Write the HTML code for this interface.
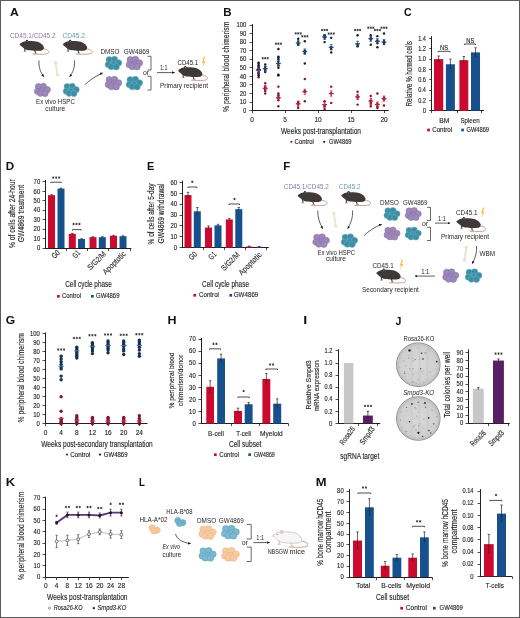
<!DOCTYPE html>
<html><head><meta charset="utf-8"><title>Figure</title>
<style>
html,body{margin:0;padding:0;background:#fff;}
body{width:520px;height:618px;overflow:hidden;}
svg{display:block;font-family:"Liberation Sans",sans-serif;will-change:transform;}
</style></head><body>
<svg width="520" height="618" viewBox="0 0 520 618" fill="#231f20">
<defs>
<marker id="ah" viewBox="0 0 6 6" refX="5" refY="3" markerWidth="4.2" markerHeight="4.2" orient="auto"><path d="M0,0.4 L6,3 L0,5.6 Z" fill="#1a1a1a"/></marker>
<radialGradient id="dishg" cx="0.5" cy="0.5" r="0.5"><stop offset="0" stop-color="#d9d9d9"/><stop offset="0.85" stop-color="#d0d0d0"/><stop offset="1" stop-color="#bcbcbc"/></radialGradient>
<clipPath id="clip364"><circle cx="418.3" cy="364.7" r="21.3"/></clipPath>
<clipPath id="clip418"><circle cx="418.3" cy="418.5" r="21.3"/></clipPath>
</defs>
<rect x="0" y="0" width="520" height="618" fill="#fff"/>
<text x="9.9" y="16.2" font-size="10.6" fill="#111" font-weight="bold" textLength="8.8" lengthAdjust="spacingAndGlyphs">A</text>
<text x="10" y="37.5" font-size="7.3" fill="#8d7aa9" textLength="45.5" lengthAdjust="spacingAndGlyphs">CD45.1/CD45.2</text>
<text x="62.5" y="37.5" font-size="7.3" fill="#5fa0ad" textLength="22.3" lengthAdjust="spacingAndGlyphs">CD45.2</text>
<g transform="translate(19.6 44.3) scale(1)"><path d="M23.3,4.4 C28.3,4.9 30.6,7.3 28.7,9 C26.7,10.3 20,10 13.5,9.7" fill="none" stroke="#b98f87" stroke-width="0.85" stroke-linecap="round"/><path d="M5.1,3.8 L5.3,7 M15,5.6 L16,8.6" stroke="#3f3939" stroke-width="1.1" stroke-linecap="round"/><path d="M4.3,7.2 L6.2,7.2 M15.2,8.9 L17.2,8.9" stroke="#b98f87" stroke-width="0.7" stroke-linecap="round"/><path d="M0,0 C1.2,-1.3 3,-2.5 5.5,-3 C8.5,-3.5 12,-3.1 15,-3 C19,-2.8 22.8,-0.6 24.2,2.5 C24.8,4.4 23.6,5.8 21.5,6.2 C17,6.6 12,6.4 9,6 C6.5,5.7 4.5,4.3 3,2.9 C1.8,1.9 0.4,0.9 0,0 Z" fill="#3f3939" stroke="none" stroke-width="0.5"/><path d="M15,3 C18,4.5 21,5 23.5,4.2 C23.5,5.5 22.5,6 21,6.1 C18,6.4 16,5.5 15,3 Z" fill="#4a3532" opacity="0.8"/><ellipse cx="7.4" cy="-3.1" rx="1.25" ry="1.4" fill="#3a3332" stroke="none" stroke-width="0.4"/><circle cx="7.6" cy="-2.8" r="0.6" fill="#9d8f8c"/><circle cx="3.6" cy="-0.9" r="0.45" fill="#0c0a0a"/><circle cx="0.1" cy="0.3" r="0.45" fill="#c89a8e"/></g>
<g transform="translate(62.8 44.3) scale(1)"><path d="M23.3,4.4 C28.3,4.9 30.6,7.3 28.7,9 C26.7,10.3 20,10 13.5,9.7" fill="none" stroke="#b98f87" stroke-width="0.85" stroke-linecap="round"/><path d="M5.1,3.8 L5.3,7 M15,5.6 L16,8.6" stroke="#3f3939" stroke-width="1.1" stroke-linecap="round"/><path d="M4.3,7.2 L6.2,7.2 M15.2,8.9 L17.2,8.9" stroke="#b98f87" stroke-width="0.7" stroke-linecap="round"/><path d="M0,0 C1.2,-1.3 3,-2.5 5.5,-3 C8.5,-3.5 12,-3.1 15,-3 C19,-2.8 22.8,-0.6 24.2,2.5 C24.8,4.4 23.6,5.8 21.5,6.2 C17,6.6 12,6.4 9,6 C6.5,5.7 4.5,4.3 3,2.9 C1.8,1.9 0.4,0.9 0,0 Z" fill="#3f3939" stroke="none" stroke-width="0.5"/><path d="M15,3 C18,4.5 21,5 23.5,4.2 C23.5,5.5 22.5,6 21,6.1 C18,6.4 16,5.5 15,3 Z" fill="#4a3532" opacity="0.8"/><ellipse cx="7.4" cy="-3.1" rx="1.25" ry="1.4" fill="#3a3332" stroke="none" stroke-width="0.4"/><circle cx="7.6" cy="-2.8" r="0.6" fill="#9d8f8c"/><circle cx="3.6" cy="-0.9" r="0.45" fill="#0c0a0a"/><circle cx="0.1" cy="0.3" r="0.45" fill="#c89a8e"/></g>
<path d="M39,60.5 C38.5,67 40.5,72.5 43.8,76.5" fill="none" stroke="#1a1a1a" stroke-width="0.7" marker-end="url(#ah)"/>
<path d="M74.5,60.5 C75,67 73,72.5 69.7,76.5" fill="none" stroke="#1a1a1a" stroke-width="0.7" marker-end="url(#ah)"/>
<g transform="translate(56.5 68.5) rotate(-9)"><rect x="-0.65" y="-6.5" width="1.3" height="13" fill="#efe5cf" stroke="#ddd0b4" stroke-width="0.3"/><circle cx="-0.7" cy="-6.6" r="0.95" fill="#efe5cf" stroke="#ddd0b4" stroke-width="0.25"/><circle cx="0.7" cy="-6.3" r="0.95" fill="#efe5cf" stroke="#ddd0b4" stroke-width="0.25"/><circle cx="-0.7" cy="6.3" r="0.95" fill="#efe5cf" stroke="#ddd0b4" stroke-width="0.25"/><circle cx="0.7" cy="6.6" r="0.95" fill="#efe5cf" stroke="#ddd0b4" stroke-width="0.25"/><rect x="-0.55" y="-6.2" width="1.1" height="12.4" fill="#efe5cf"/></g>
<g transform="translate(34.2 83.1) scale(0.99 0.99)"><circle cx="4.2" cy="3.5" r="3.15" fill="#9d88ba" stroke="#8570a6" stroke-width="0.55"/><circle cx="9.3" cy="3.2" r="3.15" fill="#9d88ba" stroke="#8570a6" stroke-width="0.55"/><circle cx="3.3" cy="8.3" r="3.15" fill="#9d88ba" stroke="#8570a6" stroke-width="0.55"/><circle cx="8.6" cy="7.9" r="3.15" fill="#9d88ba" stroke="#8570a6" stroke-width="0.55"/><circle cx="13.3" cy="6.6" r="3.15" fill="#9d88ba" stroke="#8570a6" stroke-width="0.55"/><circle cx="6.2" cy="10.3" r="3.15" fill="#9d88ba" stroke="#8570a6" stroke-width="0.55"/><circle cx="11" cy="10.5" r="3.15" fill="#9d88ba" stroke="#8570a6" stroke-width="0.55"/></g>
<g transform="translate(63 83.1) scale(0.99 0.99)"><circle cx="4.2" cy="3.5" r="3.15" fill="#3d8da3" stroke="#66b3c6" stroke-width="0.55"/><circle cx="9.3" cy="3.2" r="3.15" fill="#3d8da3" stroke="#66b3c6" stroke-width="0.55"/><circle cx="3.3" cy="8.3" r="3.15" fill="#3d8da3" stroke="#66b3c6" stroke-width="0.55"/><circle cx="8.6" cy="7.9" r="3.15" fill="#3d8da3" stroke="#66b3c6" stroke-width="0.55"/><circle cx="13.3" cy="6.6" r="3.15" fill="#3d8da3" stroke="#66b3c6" stroke-width="0.55"/><circle cx="6.2" cy="10.3" r="3.15" fill="#3d8da3" stroke="#66b3c6" stroke-width="0.55"/><circle cx="11" cy="10.5" r="3.15" fill="#3d8da3" stroke="#66b3c6" stroke-width="0.55"/></g>
<text x="55.5" y="104" font-size="7.3" text-anchor="middle" fill="#2a2627" textLength="39" lengthAdjust="spacingAndGlyphs">Ex vivo HSPC</text>
<text x="55.3" y="111.1" font-size="7.3" text-anchor="middle" fill="#2a2627" textLength="20" lengthAdjust="spacingAndGlyphs">culture</text>
<path d="M85,84.5 C90,80 95,76.5 102.5,73" fill="none" stroke="#1a1a1a" stroke-width="0.7" marker-end="url(#ah)"/>
<text x="100.5" y="54" font-size="7.3" fill="#2a2627" textLength="19" lengthAdjust="spacingAndGlyphs">DMSO</text>
<text x="123.8" y="54" font-size="7.3" fill="#2a2627" textLength="25.7" lengthAdjust="spacingAndGlyphs">GW4869</text>
<g transform="translate(105 56.2) scale(1.02 1.01)"><circle cx="4.2" cy="3.5" r="3.15" fill="#3d8da3" stroke="#66b3c6" stroke-width="0.55"/><circle cx="9.3" cy="3.2" r="3.15" fill="#3d8da3" stroke="#66b3c6" stroke-width="0.55"/><circle cx="3.3" cy="8.3" r="3.15" fill="#3d8da3" stroke="#66b3c6" stroke-width="0.55"/><circle cx="8.6" cy="7.9" r="3.15" fill="#3d8da3" stroke="#66b3c6" stroke-width="0.55"/><circle cx="13.3" cy="6.6" r="3.15" fill="#3d8da3" stroke="#66b3c6" stroke-width="0.55"/><circle cx="6.2" cy="10.3" r="3.15" fill="#3d8da3" stroke="#66b3c6" stroke-width="0.55"/><circle cx="11" cy="10.5" r="3.15" fill="#3d8da3" stroke="#66b3c6" stroke-width="0.55"/></g>
<g transform="translate(126 56.2) scale(1.01 1.01)"><circle cx="4.2" cy="3.5" r="3.15" fill="#9d88ba" stroke="#8570a6" stroke-width="0.55"/><circle cx="9.3" cy="3.2" r="3.15" fill="#9d88ba" stroke="#8570a6" stroke-width="0.55"/><circle cx="3.3" cy="8.3" r="3.15" fill="#9d88ba" stroke="#8570a6" stroke-width="0.55"/><circle cx="8.6" cy="7.9" r="3.15" fill="#9d88ba" stroke="#8570a6" stroke-width="0.55"/><circle cx="13.3" cy="6.6" r="3.15" fill="#9d88ba" stroke="#8570a6" stroke-width="0.55"/><circle cx="6.2" cy="10.3" r="3.15" fill="#9d88ba" stroke="#8570a6" stroke-width="0.55"/><circle cx="11" cy="10.5" r="3.15" fill="#9d88ba" stroke="#8570a6" stroke-width="0.55"/></g>
<g transform="translate(105 76.2) scale(1.02 1.01)"><circle cx="4.2" cy="3.5" r="3.15" fill="#9d88ba" stroke="#8570a6" stroke-width="0.55"/><circle cx="9.3" cy="3.2" r="3.15" fill="#9d88ba" stroke="#8570a6" stroke-width="0.55"/><circle cx="3.3" cy="8.3" r="3.15" fill="#9d88ba" stroke="#8570a6" stroke-width="0.55"/><circle cx="8.6" cy="7.9" r="3.15" fill="#9d88ba" stroke="#8570a6" stroke-width="0.55"/><circle cx="13.3" cy="6.6" r="3.15" fill="#9d88ba" stroke="#8570a6" stroke-width="0.55"/><circle cx="6.2" cy="10.3" r="3.15" fill="#9d88ba" stroke="#8570a6" stroke-width="0.55"/><circle cx="11" cy="10.5" r="3.15" fill="#9d88ba" stroke="#8570a6" stroke-width="0.55"/></g>
<g transform="translate(126 76.2) scale(1.01 1.01)"><circle cx="4.2" cy="3.5" r="3.15" fill="#3d8da3" stroke="#66b3c6" stroke-width="0.55"/><circle cx="9.3" cy="3.2" r="3.15" fill="#3d8da3" stroke="#66b3c6" stroke-width="0.55"/><circle cx="3.3" cy="8.3" r="3.15" fill="#3d8da3" stroke="#66b3c6" stroke-width="0.55"/><circle cx="8.6" cy="7.9" r="3.15" fill="#3d8da3" stroke="#66b3c6" stroke-width="0.55"/><circle cx="13.3" cy="6.6" r="3.15" fill="#3d8da3" stroke="#66b3c6" stroke-width="0.55"/><circle cx="6.2" cy="10.3" r="3.15" fill="#3d8da3" stroke="#66b3c6" stroke-width="0.55"/><circle cx="11" cy="10.5" r="3.15" fill="#3d8da3" stroke="#66b3c6" stroke-width="0.55"/></g>
<path d="M147.5,56.3 L151,56.3 L151,70 L147.5,70" fill="none" stroke="#2a2a2a" stroke-width="0.7"/>
<path d="M147.5,76.3 L151,76.3 L151,90 L147.5,90" fill="none" stroke="#2a2a2a" stroke-width="0.7"/>
<text x="146" y="74.5" font-size="6.9" text-anchor="middle" fill="#2a2627">or</text>
<text x="163.8" y="70" font-size="6.9" text-anchor="middle" fill="#2a2627" textLength="7.5" lengthAdjust="spacingAndGlyphs">1:1</text>
<path d="M157,72.6 L174.5,72.6" fill="none" stroke="#1a1a1a" stroke-width="0.7" marker-end="url(#ah)"/>
<text x="177.6" y="65" font-size="7.3" fill="#2a2627" textLength="20.5" lengthAdjust="spacingAndGlyphs">CD45.1</text>
<path transform="translate(200.8 56.6) scale(0.87 1.16)" d="M3.6,0 L1.2,5.4 L3.1,5.4 L1.4,10 L5.4,3.9 L3.5,3.9 L5.2,0 Z" fill="#f6c14a"/>
<g transform="translate(178 70.5) scale(1)"><path d="M23.3,4.4 C28.3,4.9 30.6,7.3 28.7,9 C26.7,10.3 20,10 13.5,9.7" fill="none" stroke="#b98f87" stroke-width="0.85" stroke-linecap="round"/><path d="M5.1,3.8 L5.3,7 M15,5.6 L16,8.6" stroke="#3f3939" stroke-width="1.1" stroke-linecap="round"/><path d="M4.3,7.2 L6.2,7.2 M15.2,8.9 L17.2,8.9" stroke="#b98f87" stroke-width="0.7" stroke-linecap="round"/><path d="M0,0 C1.2,-1.3 3,-2.5 5.5,-3 C8.5,-3.5 12,-3.1 15,-3 C19,-2.8 22.8,-0.6 24.2,2.5 C24.8,4.4 23.6,5.8 21.5,6.2 C17,6.6 12,6.4 9,6 C6.5,5.7 4.5,4.3 3,2.9 C1.8,1.9 0.4,0.9 0,0 Z" fill="#3f3939" stroke="none" stroke-width="0.5"/><path d="M15,3 C18,4.5 21,5 23.5,4.2 C23.5,5.5 22.5,6 21,6.1 C18,6.4 16,5.5 15,3 Z" fill="#4a3532" opacity="0.8"/><ellipse cx="7.4" cy="-3.1" rx="1.25" ry="1.4" fill="#3a3332" stroke="none" stroke-width="0.4"/><circle cx="7.6" cy="-2.8" r="0.6" fill="#9d8f8c"/><circle cx="3.6" cy="-0.9" r="0.45" fill="#0c0a0a"/><circle cx="0.1" cy="0.3" r="0.45" fill="#c89a8e"/></g>
<text x="184" y="87.6" font-size="7.3" text-anchor="middle" fill="#2a2627" textLength="48" lengthAdjust="spacingAndGlyphs">Primary recipient</text>
<text x="283.3" y="169.5" font-size="10.6" fill="#111" font-weight="bold" textLength="7" lengthAdjust="spacingAndGlyphs">F</text>
<text x="283.8" y="188.8" font-size="7.3" fill="#8d7aa9" textLength="45" lengthAdjust="spacingAndGlyphs">CD45.1/CD45.2</text>
<text x="338.8" y="188.8" font-size="7.3" fill="#5fa0ad" textLength="21.8" lengthAdjust="spacingAndGlyphs">CD45.2</text>
<g transform="translate(297.6 195.6) scale(1)"><path d="M23.3,4.4 C28.3,4.9 30.6,7.3 28.7,9 C26.7,10.3 20,10 13.5,9.7" fill="none" stroke="#b98f87" stroke-width="0.85" stroke-linecap="round"/><path d="M5.1,3.8 L5.3,7 M15,5.6 L16,8.6" stroke="#3f3939" stroke-width="1.1" stroke-linecap="round"/><path d="M4.3,7.2 L6.2,7.2 M15.2,8.9 L17.2,8.9" stroke="#b98f87" stroke-width="0.7" stroke-linecap="round"/><path d="M0,0 C1.2,-1.3 3,-2.5 5.5,-3 C8.5,-3.5 12,-3.1 15,-3 C19,-2.8 22.8,-0.6 24.2,2.5 C24.8,4.4 23.6,5.8 21.5,6.2 C17,6.6 12,6.4 9,6 C6.5,5.7 4.5,4.3 3,2.9 C1.8,1.9 0.4,0.9 0,0 Z" fill="#3f3939" stroke="none" stroke-width="0.5"/><path d="M15,3 C18,4.5 21,5 23.5,4.2 C23.5,5.5 22.5,6 21,6.1 C18,6.4 16,5.5 15,3 Z" fill="#4a3532" opacity="0.8"/><ellipse cx="7.4" cy="-3.1" rx="1.25" ry="1.4" fill="#3a3332" stroke="none" stroke-width="0.4"/><circle cx="7.6" cy="-2.8" r="0.6" fill="#9d8f8c"/><circle cx="3.6" cy="-0.9" r="0.45" fill="#0c0a0a"/><circle cx="0.1" cy="0.3" r="0.45" fill="#c89a8e"/></g>
<g transform="translate(341.2 195.6) scale(1)"><path d="M23.3,4.4 C28.3,4.9 30.6,7.3 28.7,9 C26.7,10.3 20,10 13.5,9.7" fill="none" stroke="#b98f87" stroke-width="0.85" stroke-linecap="round"/><path d="M5.1,3.8 L5.3,7 M15,5.6 L16,8.6" stroke="#3f3939" stroke-width="1.1" stroke-linecap="round"/><path d="M4.3,7.2 L6.2,7.2 M15.2,8.9 L17.2,8.9" stroke="#b98f87" stroke-width="0.7" stroke-linecap="round"/><path d="M0,0 C1.2,-1.3 3,-2.5 5.5,-3 C8.5,-3.5 12,-3.1 15,-3 C19,-2.8 22.8,-0.6 24.2,2.5 C24.8,4.4 23.6,5.8 21.5,6.2 C17,6.6 12,6.4 9,6 C6.5,5.7 4.5,4.3 3,2.9 C1.8,1.9 0.4,0.9 0,0 Z" fill="#3f3939" stroke="none" stroke-width="0.5"/><path d="M15,3 C18,4.5 21,5 23.5,4.2 C23.5,5.5 22.5,6 21,6.1 C18,6.4 16,5.5 15,3 Z" fill="#4a3532" opacity="0.8"/><ellipse cx="7.4" cy="-3.1" rx="1.25" ry="1.4" fill="#3a3332" stroke="none" stroke-width="0.4"/><circle cx="7.6" cy="-2.8" r="0.6" fill="#9d8f8c"/><circle cx="3.6" cy="-0.9" r="0.45" fill="#0c0a0a"/><circle cx="0.1" cy="0.3" r="0.45" fill="#c89a8e"/></g>
<path d="M317.8,210.5 C317.5,217 319.5,223 322.6,228.5" fill="none" stroke="#1a1a1a" stroke-width="0.7" marker-end="url(#ah)"/>
<path d="M352.5,210.5 C353,217 351,223 347.8,228.5" fill="none" stroke="#1a1a1a" stroke-width="0.7" marker-end="url(#ah)"/>
<g transform="translate(334.75 219.75) rotate(-9)"><rect x="-0.65" y="-6.75" width="1.3" height="13.5" fill="#efe5cf" stroke="#ddd0b4" stroke-width="0.3"/><circle cx="-0.7" cy="-6.85" r="0.95" fill="#efe5cf" stroke="#ddd0b4" stroke-width="0.25"/><circle cx="0.7" cy="-6.55" r="0.95" fill="#efe5cf" stroke="#ddd0b4" stroke-width="0.25"/><circle cx="-0.7" cy="6.55" r="0.95" fill="#efe5cf" stroke="#ddd0b4" stroke-width="0.25"/><circle cx="0.7" cy="6.85" r="0.95" fill="#efe5cf" stroke="#ddd0b4" stroke-width="0.25"/><rect x="-0.55" y="-6.45" width="1.1" height="12.9" fill="#efe5cf"/></g>
<g transform="translate(312.6 233.8) scale(1.02 1)"><circle cx="4.2" cy="3.5" r="3.15" fill="#9d88ba" stroke="#8570a6" stroke-width="0.55"/><circle cx="9.3" cy="3.2" r="3.15" fill="#9d88ba" stroke="#8570a6" stroke-width="0.55"/><circle cx="3.3" cy="8.3" r="3.15" fill="#9d88ba" stroke="#8570a6" stroke-width="0.55"/><circle cx="8.6" cy="7.9" r="3.15" fill="#9d88ba" stroke="#8570a6" stroke-width="0.55"/><circle cx="13.3" cy="6.6" r="3.15" fill="#9d88ba" stroke="#8570a6" stroke-width="0.55"/><circle cx="6.2" cy="10.3" r="3.15" fill="#9d88ba" stroke="#8570a6" stroke-width="0.55"/><circle cx="11" cy="10.5" r="3.15" fill="#9d88ba" stroke="#8570a6" stroke-width="0.55"/></g>
<g transform="translate(341 233.8) scale(1.01 1)"><circle cx="4.2" cy="3.5" r="3.15" fill="#3d8da3" stroke="#66b3c6" stroke-width="0.55"/><circle cx="9.3" cy="3.2" r="3.15" fill="#3d8da3" stroke="#66b3c6" stroke-width="0.55"/><circle cx="3.3" cy="8.3" r="3.15" fill="#3d8da3" stroke="#66b3c6" stroke-width="0.55"/><circle cx="8.6" cy="7.9" r="3.15" fill="#3d8da3" stroke="#66b3c6" stroke-width="0.55"/><circle cx="13.3" cy="6.6" r="3.15" fill="#3d8da3" stroke="#66b3c6" stroke-width="0.55"/><circle cx="6.2" cy="10.3" r="3.15" fill="#3d8da3" stroke="#66b3c6" stroke-width="0.55"/><circle cx="11" cy="10.5" r="3.15" fill="#3d8da3" stroke="#66b3c6" stroke-width="0.55"/></g>
<text x="336.3" y="255.2" font-size="7.3" text-anchor="middle" fill="#2a2627" textLength="37.5" lengthAdjust="spacingAndGlyphs">Ex vivo HSPC</text>
<text x="336" y="261.3" font-size="7.3" text-anchor="middle" fill="#2a2627" textLength="20" lengthAdjust="spacingAndGlyphs">culture</text>
<path d="M364,235.5 C369,231 374,227.5 381.5,224.3" fill="none" stroke="#1a1a1a" stroke-width="0.7" marker-end="url(#ah)"/>
<text x="380" y="205" font-size="7.3" fill="#2a2627" textLength="18.8" lengthAdjust="spacingAndGlyphs">DMSO</text>
<text x="403" y="204.8" font-size="7.3" fill="#2a2627" textLength="24.5" lengthAdjust="spacingAndGlyphs">GW4869</text>
<g transform="translate(383.8 207.5) scale(0.99 0.96)"><circle cx="4.2" cy="3.5" r="3.15" fill="#3d8da3" stroke="#66b3c6" stroke-width="0.55"/><circle cx="9.3" cy="3.2" r="3.15" fill="#3d8da3" stroke="#66b3c6" stroke-width="0.55"/><circle cx="3.3" cy="8.3" r="3.15" fill="#3d8da3" stroke="#66b3c6" stroke-width="0.55"/><circle cx="8.6" cy="7.9" r="3.15" fill="#3d8da3" stroke="#66b3c6" stroke-width="0.55"/><circle cx="13.3" cy="6.6" r="3.15" fill="#3d8da3" stroke="#66b3c6" stroke-width="0.55"/><circle cx="6.2" cy="10.3" r="3.15" fill="#3d8da3" stroke="#66b3c6" stroke-width="0.55"/><circle cx="11" cy="10.5" r="3.15" fill="#3d8da3" stroke="#66b3c6" stroke-width="0.55"/></g>
<g transform="translate(405 207.5) scale(0.99 0.96)"><circle cx="4.2" cy="3.5" r="3.15" fill="#9d88ba" stroke="#8570a6" stroke-width="0.55"/><circle cx="9.3" cy="3.2" r="3.15" fill="#9d88ba" stroke="#8570a6" stroke-width="0.55"/><circle cx="3.3" cy="8.3" r="3.15" fill="#9d88ba" stroke="#8570a6" stroke-width="0.55"/><circle cx="8.6" cy="7.9" r="3.15" fill="#9d88ba" stroke="#8570a6" stroke-width="0.55"/><circle cx="13.3" cy="6.6" r="3.15" fill="#9d88ba" stroke="#8570a6" stroke-width="0.55"/><circle cx="6.2" cy="10.3" r="3.15" fill="#9d88ba" stroke="#8570a6" stroke-width="0.55"/><circle cx="11" cy="10.5" r="3.15" fill="#9d88ba" stroke="#8570a6" stroke-width="0.55"/></g>
<g transform="translate(383.8 227) scale(0.99 0.96)"><circle cx="4.2" cy="3.5" r="3.15" fill="#9d88ba" stroke="#8570a6" stroke-width="0.55"/><circle cx="9.3" cy="3.2" r="3.15" fill="#9d88ba" stroke="#8570a6" stroke-width="0.55"/><circle cx="3.3" cy="8.3" r="3.15" fill="#9d88ba" stroke="#8570a6" stroke-width="0.55"/><circle cx="8.6" cy="7.9" r="3.15" fill="#9d88ba" stroke="#8570a6" stroke-width="0.55"/><circle cx="13.3" cy="6.6" r="3.15" fill="#9d88ba" stroke="#8570a6" stroke-width="0.55"/><circle cx="6.2" cy="10.3" r="3.15" fill="#9d88ba" stroke="#8570a6" stroke-width="0.55"/><circle cx="11" cy="10.5" r="3.15" fill="#9d88ba" stroke="#8570a6" stroke-width="0.55"/></g>
<g transform="translate(405 227) scale(0.99 0.96)"><circle cx="4.2" cy="3.5" r="3.15" fill="#3d8da3" stroke="#66b3c6" stroke-width="0.55"/><circle cx="9.3" cy="3.2" r="3.15" fill="#3d8da3" stroke="#66b3c6" stroke-width="0.55"/><circle cx="3.3" cy="8.3" r="3.15" fill="#3d8da3" stroke="#66b3c6" stroke-width="0.55"/><circle cx="8.6" cy="7.9" r="3.15" fill="#3d8da3" stroke="#66b3c6" stroke-width="0.55"/><circle cx="13.3" cy="6.6" r="3.15" fill="#3d8da3" stroke="#66b3c6" stroke-width="0.55"/><circle cx="6.2" cy="10.3" r="3.15" fill="#3d8da3" stroke="#66b3c6" stroke-width="0.55"/><circle cx="11" cy="10.5" r="3.15" fill="#3d8da3" stroke="#66b3c6" stroke-width="0.55"/></g>
<path d="M427,207.3 L430.5,207.3 L430.5,220.5 L427,220.5" fill="none" stroke="#2a2a2a" stroke-width="0.7"/>
<path d="M427,227.3 L430.5,227.3 L430.5,240.5 L427,240.5" fill="none" stroke="#2a2a2a" stroke-width="0.7"/>
<text x="425" y="225.6" font-size="6.9" text-anchor="middle" fill="#2a2627">or</text>
<text x="442" y="220.5" font-size="6.9" text-anchor="middle" fill="#2a2627" textLength="7.8" lengthAdjust="spacingAndGlyphs">1:1</text>
<path d="M435,223.1 L450,223.1" fill="none" stroke="#1a1a1a" stroke-width="0.7" marker-end="url(#ah)"/>
<text x="456" y="215" font-size="7.3" fill="#2a2627" textLength="21.5" lengthAdjust="spacingAndGlyphs">CD45.1</text>
<path transform="translate(480 207.6) scale(0.83 1.08)" d="M3.6,0 L1.2,5.4 L3.1,5.4 L1.4,10 L5.4,3.9 L3.5,3.9 L5.2,0 Z" fill="#f6c14a"/>
<g transform="translate(456.4 221.5) scale(1)"><path d="M23.3,4.4 C28.3,4.9 30.6,7.3 28.7,9 C26.7,10.3 20,10 13.5,9.7" fill="none" stroke="#b98f87" stroke-width="0.85" stroke-linecap="round"/><path d="M5.1,3.8 L5.3,7 M15,5.6 L16,8.6" stroke="#3f3939" stroke-width="1.1" stroke-linecap="round"/><path d="M4.3,7.2 L6.2,7.2 M15.2,8.9 L17.2,8.9" stroke="#b98f87" stroke-width="0.7" stroke-linecap="round"/><path d="M0,0 C1.2,-1.3 3,-2.5 5.5,-3 C8.5,-3.5 12,-3.1 15,-3 C19,-2.8 22.8,-0.6 24.2,2.5 C24.8,4.4 23.6,5.8 21.5,6.2 C17,6.6 12,6.4 9,6 C6.5,5.7 4.5,4.3 3,2.9 C1.8,1.9 0.4,0.9 0,0 Z" fill="#3f3939" stroke="none" stroke-width="0.5"/><path d="M15,3 C18,4.5 21,5 23.5,4.2 C23.5,5.5 22.5,6 21,6.1 C18,6.4 16,5.5 15,3 Z" fill="#4a3532" opacity="0.8"/><ellipse cx="7.4" cy="-3.1" rx="1.25" ry="1.4" fill="#3a3332" stroke="none" stroke-width="0.4"/><circle cx="7.6" cy="-2.8" r="0.6" fill="#9d8f8c"/><circle cx="3.6" cy="-0.9" r="0.45" fill="#0c0a0a"/><circle cx="0.1" cy="0.3" r="0.45" fill="#c89a8e"/></g>
<text x="465" y="238.8" font-size="7.3" text-anchor="middle" fill="#2a2627" textLength="48" lengthAdjust="spacingAndGlyphs">Primary recipient</text>
<g transform="translate(465.4 253.75) rotate(8)"><rect x="-0.65" y="-6.75" width="1.3" height="13.5" fill="#efe5cf" stroke="#ddd0b4" stroke-width="0.3"/><circle cx="-0.7" cy="-6.85" r="0.95" fill="#efe5cf" stroke="#ddd0b4" stroke-width="0.25"/><circle cx="0.7" cy="-6.55" r="0.95" fill="#efe5cf" stroke="#ddd0b4" stroke-width="0.25"/><circle cx="-0.7" cy="6.55" r="0.95" fill="#efe5cf" stroke="#ddd0b4" stroke-width="0.25"/><circle cx="0.7" cy="6.85" r="0.95" fill="#efe5cf" stroke="#ddd0b4" stroke-width="0.25"/><rect x="-0.55" y="-6.45" width="1.1" height="12.9" fill="#efe5cf"/></g>
<path d="M476.5,246 C477,252 475.5,258 472.3,263.5" fill="none" stroke="#1a1a1a" stroke-width="0.7" marker-end="url(#ah)"/>
<text x="487.3" y="255.6" font-size="7.3" text-anchor="middle" fill="#2a2627" textLength="15.5" lengthAdjust="spacingAndGlyphs">WBM</text>
<g transform="translate(442.5 268.8) scale(0.99 1)"><circle cx="4.2" cy="3.5" r="3.15" fill="#9d88ba" stroke="#8570a6" stroke-width="0.55"/><circle cx="9.3" cy="3.2" r="3.15" fill="#9d88ba" stroke="#8570a6" stroke-width="0.55"/><circle cx="3.3" cy="8.3" r="3.15" fill="#9d88ba" stroke="#8570a6" stroke-width="0.55"/><circle cx="8.6" cy="7.9" r="3.15" fill="#9d88ba" stroke="#8570a6" stroke-width="0.55"/><circle cx="13.3" cy="6.6" r="3.15" fill="#9d88ba" stroke="#8570a6" stroke-width="0.55"/><circle cx="6.2" cy="10.3" r="3.15" fill="#9d88ba" stroke="#8570a6" stroke-width="0.55"/><circle cx="11" cy="10.5" r="3.15" fill="#9d88ba" stroke="#8570a6" stroke-width="0.55"/></g>
<g transform="translate(465 268.8) scale(1.03 1)"><circle cx="4.2" cy="3.5" r="3.15" fill="#3d8da3" stroke="#66b3c6" stroke-width="0.55"/><circle cx="9.3" cy="3.2" r="3.15" fill="#3d8da3" stroke="#66b3c6" stroke-width="0.55"/><circle cx="3.3" cy="8.3" r="3.15" fill="#3d8da3" stroke="#66b3c6" stroke-width="0.55"/><circle cx="8.6" cy="7.9" r="3.15" fill="#3d8da3" stroke="#66b3c6" stroke-width="0.55"/><circle cx="13.3" cy="6.6" r="3.15" fill="#3d8da3" stroke="#66b3c6" stroke-width="0.55"/><circle cx="6.2" cy="10.3" r="3.15" fill="#3d8da3" stroke="#66b3c6" stroke-width="0.55"/><circle cx="11" cy="10.5" r="3.15" fill="#3d8da3" stroke="#66b3c6" stroke-width="0.55"/></g>
<text x="425.3" y="273.8" font-size="6.9" text-anchor="middle" fill="#2a2627" textLength="8.3" lengthAdjust="spacingAndGlyphs">1:1</text>
<path d="M435,276.1 L415,276.1" fill="none" stroke="#1a1a1a" stroke-width="0.7" marker-end="url(#ah)"/>
<text x="372.5" y="268.1" font-size="7.3" fill="#2a2627" textLength="21.3" lengthAdjust="spacingAndGlyphs">CD45.1</text>
<path transform="translate(398.6 259.8) scale(0.87 1.1)" d="M3.6,0 L1.2,5.4 L3.1,5.4 L1.4,10 L5.4,3.9 L3.5,3.9 L5.2,0 Z" fill="#f6c14a"/>
<g transform="translate(376.3 273) scale(1)"><path d="M23.3,4.4 C28.3,4.9 30.6,7.3 28.7,9 C26.7,10.3 20,10 13.5,9.7" fill="none" stroke="#b98f87" stroke-width="0.85" stroke-linecap="round"/><path d="M5.1,3.8 L5.3,7 M15,5.6 L16,8.6" stroke="#3f3939" stroke-width="1.1" stroke-linecap="round"/><path d="M4.3,7.2 L6.2,7.2 M15.2,8.9 L17.2,8.9" stroke="#b98f87" stroke-width="0.7" stroke-linecap="round"/><path d="M0,0 C1.2,-1.3 3,-2.5 5.5,-3 C8.5,-3.5 12,-3.1 15,-3 C19,-2.8 22.8,-0.6 24.2,2.5 C24.8,4.4 23.6,5.8 21.5,6.2 C17,6.6 12,6.4 9,6 C6.5,5.7 4.5,4.3 3,2.9 C1.8,1.9 0.4,0.9 0,0 Z" fill="#3f3939" stroke="none" stroke-width="0.5"/><path d="M15,3 C18,4.5 21,5 23.5,4.2 C23.5,5.5 22.5,6 21,6.1 C18,6.4 16,5.5 15,3 Z" fill="#4a3532" opacity="0.8"/><ellipse cx="7.4" cy="-3.1" rx="1.25" ry="1.4" fill="#3a3332" stroke="none" stroke-width="0.4"/><circle cx="7.6" cy="-2.8" r="0.6" fill="#9d8f8c"/><circle cx="3.6" cy="-0.9" r="0.45" fill="#0c0a0a"/><circle cx="0.1" cy="0.3" r="0.45" fill="#c89a8e"/></g>
<text x="390.4" y="291.6" font-size="7.3" text-anchor="middle" fill="#2a2627" textLength="56.7" lengthAdjust="spacingAndGlyphs">Secondary recipient</text>
<text x="223.2" y="16.3" font-size="10.6" fill="#111" font-weight="bold" textLength="8.3" lengthAdjust="spacingAndGlyphs">B</text>
<line x1="252.5" y1="24" x2="252.5" y2="111.1" stroke="#231f20" stroke-width="1"/>
<line x1="249.5" y1="110.5" x2="252.5" y2="110.5" stroke="#231f20" stroke-width="0.8"/>
<text x="246.4" y="112.8" font-size="6.3" text-anchor="end" textLength="3.3" lengthAdjust="spacingAndGlyphs" stroke="#231f20" stroke-width="0.13">0</text>
<line x1="249.5" y1="102.5" x2="252.5" y2="102.5" stroke="#231f20" stroke-width="0.8"/>
<text x="246.4" y="104.24" font-size="6.3" text-anchor="end" textLength="6.6" lengthAdjust="spacingAndGlyphs" stroke="#231f20" stroke-width="0.13">10</text>
<line x1="249.5" y1="93.5" x2="252.5" y2="93.5" stroke="#231f20" stroke-width="0.8"/>
<text x="246.4" y="95.68" font-size="6.3" text-anchor="end" textLength="6.6" lengthAdjust="spacingAndGlyphs" stroke="#231f20" stroke-width="0.13">20</text>
<line x1="249.5" y1="84.5" x2="252.5" y2="84.5" stroke="#231f20" stroke-width="0.8"/>
<text x="246.4" y="87.12" font-size="6.3" text-anchor="end" textLength="6.6" lengthAdjust="spacingAndGlyphs" stroke="#231f20" stroke-width="0.13">30</text>
<line x1="249.5" y1="76.5" x2="252.5" y2="76.5" stroke="#231f20" stroke-width="0.8"/>
<text x="246.4" y="78.56" font-size="6.3" text-anchor="end" textLength="6.6" lengthAdjust="spacingAndGlyphs" stroke="#231f20" stroke-width="0.13">40</text>
<line x1="249.5" y1="67.5" x2="252.5" y2="67.5" stroke="#231f20" stroke-width="0.8"/>
<text x="246.4" y="70" font-size="6.3" text-anchor="end" textLength="6.6" lengthAdjust="spacingAndGlyphs" stroke="#231f20" stroke-width="0.13">50</text>
<line x1="249.5" y1="59.5" x2="252.5" y2="59.5" stroke="#231f20" stroke-width="0.8"/>
<text x="246.4" y="61.44" font-size="6.3" text-anchor="end" textLength="6.6" lengthAdjust="spacingAndGlyphs" stroke="#231f20" stroke-width="0.13">60</text>
<line x1="249.5" y1="50.5" x2="252.5" y2="50.5" stroke="#231f20" stroke-width="0.8"/>
<text x="246.4" y="52.88" font-size="6.3" text-anchor="end" textLength="6.6" lengthAdjust="spacingAndGlyphs" stroke="#231f20" stroke-width="0.13">70</text>
<line x1="249.5" y1="42.5" x2="252.5" y2="42.5" stroke="#231f20" stroke-width="0.8"/>
<text x="246.4" y="44.32" font-size="6.3" text-anchor="end" textLength="6.6" lengthAdjust="spacingAndGlyphs" stroke="#231f20" stroke-width="0.13">80</text>
<line x1="249.5" y1="33.5" x2="252.5" y2="33.5" stroke="#231f20" stroke-width="0.8"/>
<text x="246.4" y="35.77" font-size="6.3" text-anchor="end" textLength="6.6" lengthAdjust="spacingAndGlyphs" stroke="#231f20" stroke-width="0.13">90</text>
<line x1="249.5" y1="25.5" x2="252.5" y2="25.5" stroke="#231f20" stroke-width="0.8"/>
<text x="246.4" y="27.2" font-size="6.3" text-anchor="end" textLength="9.9" lengthAdjust="spacingAndGlyphs" stroke="#231f20" stroke-width="0.13">100</text>
<line x1="252" y1="110.5" x2="388.8" y2="110.5" stroke="#231f20" stroke-width="1"/>
<line x1="252.5" y1="110.5" x2="252.5" y2="113.1" stroke="#231f20" stroke-width="0.8"/>
<line x1="285.5" y1="110.5" x2="285.5" y2="113.1" stroke="#231f20" stroke-width="0.8"/>
<line x1="318.5" y1="110.5" x2="318.5" y2="113.1" stroke="#231f20" stroke-width="0.8"/>
<line x1="351.5" y1="110.5" x2="351.5" y2="113.1" stroke="#231f20" stroke-width="0.8"/>
<line x1="384.5" y1="110.5" x2="384.5" y2="113.1" stroke="#231f20" stroke-width="0.8"/>
<text x="252" y="121.6" font-size="6.5" text-anchor="middle" stroke="#231f20" stroke-width="0.13">0</text>
<text x="285" y="121.6" font-size="6.5" text-anchor="middle" stroke="#231f20" stroke-width="0.13">5</text>
<text x="318" y="121.6" font-size="6.5" text-anchor="middle" stroke="#231f20" stroke-width="0.13">10</text>
<text x="351" y="121.6" font-size="6.5" text-anchor="middle" stroke="#231f20" stroke-width="0.13">15</text>
<text x="384" y="121.6" font-size="6.5" text-anchor="middle" stroke="#231f20" stroke-width="0.13">20</text>
<text x="321" y="133.8" font-size="8.6" text-anchor="middle" textLength="80" lengthAdjust="spacingAndGlyphs" stroke="#231f20" stroke-width="0.13">Weeks post-transplantation</text>
<text x="229.46" y="66.8" font-size="8.3" text-anchor="middle" textLength="90.5" lengthAdjust="spacingAndGlyphs" transform="rotate(-90 229.46 66.8)" stroke="#231f20" stroke-width="0.13">% peripheral blood chimerism</text>
<circle cx="291.4" cy="141.8" r="1.1" fill="#8c1d2e"/>
<text x="294.6" y="144" font-size="6.3" textLength="19.2" lengthAdjust="spacingAndGlyphs" stroke="#231f20" stroke-width="0.13">Control</text>
<circle cx="324.2" cy="141.8" r="1.1" fill="#14233a"/>
<text x="329" y="144" font-size="6.3" textLength="22.5" lengthAdjust="spacingAndGlyphs" stroke="#231f20" stroke-width="0.13">GW4869</text>
<circle cx="258.6" cy="77.22" r="1.2" fill="#7e1728"/>
<circle cx="258.6" cy="74.65" r="1.2" fill="#7e1728"/>
<circle cx="258.6" cy="72.08" r="1.2" fill="#7e1728"/>
<circle cx="258.6" cy="68.66" r="1.2" fill="#7e1728"/>
<circle cx="258.6" cy="66.09" r="1.2" fill="#7e1728"/>
<circle cx="258.6" cy="63.52" r="1.2" fill="#7e1728"/>
<circle cx="258.6" cy="75.5" r="1.2" fill="#161a22"/>
<circle cx="258.6" cy="72.94" r="1.2" fill="#161a22"/>
<circle cx="258.6" cy="70.37" r="1.2" fill="#161a22"/>
<circle cx="258.6" cy="67.8" r="1.2" fill="#161a22"/>
<circle cx="258.6" cy="65.23" r="1.2" fill="#161a22"/>
<circle cx="258.6" cy="62.66" r="1.2" fill="#161a22"/>
<line x1="256.2" y1="70.37" x2="261" y2="70.37" stroke="#b8223f" stroke-width="1.3"/>
<line x1="258.6" y1="67.8" x2="258.6" y2="72.94" stroke="#b8223f" stroke-width="0.8"/>
<line x1="257.3" y1="67.8" x2="259.9" y2="67.8" stroke="#b8223f" stroke-width="0.8"/>
<line x1="257.3" y1="72.94" x2="259.9" y2="72.94" stroke="#b8223f" stroke-width="0.8"/>
<line x1="256.2" y1="69.51" x2="261" y2="69.51" stroke="#1f4d7e" stroke-width="1.3"/>
<line x1="258.6" y1="66.94" x2="258.6" y2="72.08" stroke="#1f4d7e" stroke-width="0.8"/>
<line x1="257.3" y1="66.94" x2="259.9" y2="66.94" stroke="#1f4d7e" stroke-width="0.8"/>
<line x1="257.3" y1="72.08" x2="259.9" y2="72.08" stroke="#1f4d7e" stroke-width="0.8"/>
<circle cx="265.2" cy="93.48" r="1.2" fill="#7e1728"/>
<circle cx="265.2" cy="90.91" r="1.2" fill="#7e1728"/>
<circle cx="265.2" cy="89.2" r="1.2" fill="#7e1728"/>
<circle cx="265.2" cy="87.49" r="1.2" fill="#7e1728"/>
<circle cx="265.2" cy="86.63" r="1.2" fill="#7e1728"/>
<circle cx="265.2" cy="83.21" r="1.2" fill="#7e1728"/>
<circle cx="265.2" cy="72.08" r="1.2" fill="#161a22"/>
<circle cx="265.2" cy="70.37" r="1.2" fill="#161a22"/>
<circle cx="265.2" cy="68.66" r="1.2" fill="#161a22"/>
<circle cx="265.2" cy="66.94" r="1.2" fill="#161a22"/>
<circle cx="265.2" cy="64.38" r="1.2" fill="#161a22"/>
<line x1="262.8" y1="88.34" x2="267.6" y2="88.34" stroke="#b8223f" stroke-width="1.3"/>
<line x1="265.2" y1="85.78" x2="265.2" y2="90.91" stroke="#b8223f" stroke-width="0.8"/>
<line x1="263.9" y1="85.78" x2="266.5" y2="85.78" stroke="#b8223f" stroke-width="0.8"/>
<line x1="263.9" y1="90.91" x2="266.5" y2="90.91" stroke="#b8223f" stroke-width="0.8"/>
<line x1="262.8" y1="68.66" x2="267.6" y2="68.66" stroke="#1f4d7e" stroke-width="1.3"/>
<line x1="265.2" y1="66.09" x2="265.2" y2="71.22" stroke="#1f4d7e" stroke-width="0.8"/>
<line x1="263.9" y1="66.09" x2="266.5" y2="66.09" stroke="#1f4d7e" stroke-width="0.8"/>
<line x1="263.9" y1="71.22" x2="266.5" y2="71.22" stroke="#1f4d7e" stroke-width="0.8"/>
<circle cx="278.4" cy="106.32" r="1.2" fill="#7e1728"/>
<circle cx="278.4" cy="100.33" r="1.2" fill="#7e1728"/>
<circle cx="278.4" cy="98.62" r="1.2" fill="#7e1728"/>
<circle cx="278.4" cy="96.9" r="1.2" fill="#7e1728"/>
<circle cx="278.4" cy="95.19" r="1.2" fill="#7e1728"/>
<circle cx="278.4" cy="93.48" r="1.2" fill="#7e1728"/>
<circle cx="278.4" cy="86.63" r="1.2" fill="#7e1728"/>
<circle cx="278.4" cy="75.5" r="1.2" fill="#161a22"/>
<circle cx="278.4" cy="74.65" r="1.2" fill="#161a22"/>
<circle cx="278.4" cy="67.8" r="1.2" fill="#161a22"/>
<circle cx="278.4" cy="65.23" r="1.2" fill="#161a22"/>
<circle cx="278.4" cy="61.81" r="1.2" fill="#161a22"/>
<circle cx="278.4" cy="59.24" r="1.2" fill="#161a22"/>
<circle cx="278.4" cy="57.53" r="1.2" fill="#161a22"/>
<circle cx="278.4" cy="56.67" r="1.2" fill="#161a22"/>
<circle cx="278.4" cy="48.97" r="1.2" fill="#161a22"/>
<line x1="276" y1="97.76" x2="280.8" y2="97.76" stroke="#b8223f" stroke-width="1.3"/>
<line x1="278.4" y1="95.19" x2="278.4" y2="100.33" stroke="#b8223f" stroke-width="0.8"/>
<line x1="277.1" y1="95.19" x2="279.7" y2="95.19" stroke="#b8223f" stroke-width="0.8"/>
<line x1="277.1" y1="100.33" x2="279.7" y2="100.33" stroke="#b8223f" stroke-width="0.8"/>
<line x1="276" y1="63.52" x2="280.8" y2="63.52" stroke="#1f4d7e" stroke-width="1.3"/>
<line x1="278.4" y1="60.95" x2="278.4" y2="66.09" stroke="#1f4d7e" stroke-width="0.8"/>
<line x1="277.1" y1="60.95" x2="279.7" y2="60.95" stroke="#1f4d7e" stroke-width="0.8"/>
<line x1="277.1" y1="66.09" x2="279.7" y2="66.09" stroke="#1f4d7e" stroke-width="0.8"/>
<circle cx="298.2" cy="108.03" r="1.2" fill="#7e1728"/>
<circle cx="298.2" cy="104.61" r="1.2" fill="#7e1728"/>
<circle cx="298.2" cy="102.9" r="1.2" fill="#7e1728"/>
<circle cx="298.2" cy="102.04" r="1.2" fill="#7e1728"/>
<circle cx="298.2" cy="44.69" r="1.2" fill="#161a22"/>
<circle cx="298.2" cy="43.83" r="1.2" fill="#161a22"/>
<circle cx="298.2" cy="42.12" r="1.2" fill="#161a22"/>
<circle cx="298.2" cy="38.7" r="1.2" fill="#161a22"/>
<line x1="295.8" y1="103.75" x2="300.6" y2="103.75" stroke="#b8223f" stroke-width="1.3"/>
<line x1="298.2" y1="101.18" x2="298.2" y2="106.32" stroke="#b8223f" stroke-width="0.8"/>
<line x1="296.9" y1="101.18" x2="299.5" y2="101.18" stroke="#b8223f" stroke-width="0.8"/>
<line x1="296.9" y1="106.32" x2="299.5" y2="106.32" stroke="#b8223f" stroke-width="0.8"/>
<line x1="295.8" y1="42.98" x2="300.6" y2="42.98" stroke="#1f4d7e" stroke-width="1.3"/>
<line x1="298.2" y1="40.41" x2="298.2" y2="45.54" stroke="#1f4d7e" stroke-width="0.8"/>
<line x1="296.9" y1="40.41" x2="299.5" y2="40.41" stroke="#1f4d7e" stroke-width="0.8"/>
<line x1="296.9" y1="45.54" x2="299.5" y2="45.54" stroke="#1f4d7e" stroke-width="0.8"/>
<circle cx="304.8" cy="101.18" r="1.2" fill="#7e1728"/>
<circle cx="304.8" cy="91.77" r="1.2" fill="#7e1728"/>
<circle cx="304.8" cy="90.91" r="1.2" fill="#7e1728"/>
<circle cx="304.8" cy="78.93" r="1.2" fill="#7e1728"/>
<circle cx="304.8" cy="63.52" r="1.2" fill="#161a22"/>
<circle cx="304.8" cy="53.25" r="1.2" fill="#161a22"/>
<circle cx="304.8" cy="51.54" r="1.2" fill="#161a22"/>
<circle cx="304.8" cy="50.68" r="1.2" fill="#161a22"/>
<circle cx="304.8" cy="41.26" r="1.2" fill="#161a22"/>
<line x1="302.4" y1="91.77" x2="307.2" y2="91.77" stroke="#b8223f" stroke-width="1.3"/>
<line x1="304.8" y1="89.2" x2="304.8" y2="94.34" stroke="#b8223f" stroke-width="0.8"/>
<line x1="303.5" y1="89.2" x2="306.1" y2="89.2" stroke="#b8223f" stroke-width="0.8"/>
<line x1="303.5" y1="94.34" x2="306.1" y2="94.34" stroke="#b8223f" stroke-width="0.8"/>
<line x1="302.4" y1="51.54" x2="307.2" y2="51.54" stroke="#1f4d7e" stroke-width="1.3"/>
<line x1="304.8" y1="48.97" x2="304.8" y2="54.1" stroke="#1f4d7e" stroke-width="0.8"/>
<line x1="303.5" y1="48.97" x2="306.1" y2="48.97" stroke="#1f4d7e" stroke-width="0.8"/>
<line x1="303.5" y1="54.1" x2="306.1" y2="54.1" stroke="#1f4d7e" stroke-width="0.8"/>
<circle cx="324.6" cy="108.89" r="1.2" fill="#7e1728"/>
<circle cx="324.6" cy="106.32" r="1.2" fill="#7e1728"/>
<circle cx="324.6" cy="104.61" r="1.2" fill="#7e1728"/>
<circle cx="324.6" cy="101.18" r="1.2" fill="#7e1728"/>
<circle cx="324.6" cy="42.12" r="1.2" fill="#161a22"/>
<circle cx="324.6" cy="37.84" r="1.2" fill="#161a22"/>
<circle cx="324.6" cy="36.98" r="1.2" fill="#161a22"/>
<circle cx="324.6" cy="35.27" r="1.2" fill="#161a22"/>
<line x1="322.2" y1="104.61" x2="327" y2="104.61" stroke="#b8223f" stroke-width="1.3"/>
<line x1="324.6" y1="102.04" x2="324.6" y2="107.18" stroke="#b8223f" stroke-width="0.8"/>
<line x1="323.3" y1="102.04" x2="325.9" y2="102.04" stroke="#b8223f" stroke-width="0.8"/>
<line x1="323.3" y1="107.18" x2="325.9" y2="107.18" stroke="#b8223f" stroke-width="0.8"/>
<line x1="322.2" y1="36.98" x2="327" y2="36.98" stroke="#1f4d7e" stroke-width="1.3"/>
<line x1="324.6" y1="34.42" x2="324.6" y2="39.55" stroke="#1f4d7e" stroke-width="0.8"/>
<line x1="323.3" y1="34.42" x2="325.9" y2="34.42" stroke="#1f4d7e" stroke-width="0.8"/>
<line x1="323.3" y1="39.55" x2="325.9" y2="39.55" stroke="#1f4d7e" stroke-width="0.8"/>
<circle cx="331.2" cy="102.9" r="1.2" fill="#7e1728"/>
<circle cx="331.2" cy="93.48" r="1.2" fill="#7e1728"/>
<circle cx="331.2" cy="86.63" r="1.2" fill="#7e1728"/>
<circle cx="331.2" cy="52.39" r="1.2" fill="#161a22"/>
<circle cx="331.2" cy="48.97" r="1.2" fill="#161a22"/>
<circle cx="331.2" cy="47.26" r="1.2" fill="#161a22"/>
<circle cx="331.2" cy="37.84" r="1.2" fill="#161a22"/>
<line x1="328.8" y1="93.48" x2="333.6" y2="93.48" stroke="#b8223f" stroke-width="1.3"/>
<line x1="331.2" y1="90.91" x2="331.2" y2="96.05" stroke="#b8223f" stroke-width="0.8"/>
<line x1="329.9" y1="90.91" x2="332.5" y2="90.91" stroke="#b8223f" stroke-width="0.8"/>
<line x1="329.9" y1="96.05" x2="332.5" y2="96.05" stroke="#b8223f" stroke-width="0.8"/>
<line x1="328.8" y1="47.26" x2="333.6" y2="47.26" stroke="#1f4d7e" stroke-width="1.3"/>
<line x1="331.2" y1="44.69" x2="331.2" y2="49.82" stroke="#1f4d7e" stroke-width="0.8"/>
<line x1="329.9" y1="44.69" x2="332.5" y2="44.69" stroke="#1f4d7e" stroke-width="0.8"/>
<line x1="329.9" y1="49.82" x2="332.5" y2="49.82" stroke="#1f4d7e" stroke-width="0.8"/>
<circle cx="357.6" cy="104.61" r="1.2" fill="#7e1728"/>
<circle cx="357.6" cy="97.76" r="1.2" fill="#7e1728"/>
<circle cx="357.6" cy="96.05" r="1.2" fill="#7e1728"/>
<circle cx="357.6" cy="91.77" r="1.2" fill="#7e1728"/>
<circle cx="357.6" cy="46.4" r="1.2" fill="#161a22"/>
<circle cx="357.6" cy="45.54" r="1.2" fill="#161a22"/>
<circle cx="357.6" cy="43.83" r="1.2" fill="#161a22"/>
<circle cx="357.6" cy="35.27" r="1.2" fill="#161a22"/>
<line x1="355.2" y1="96.9" x2="360" y2="96.9" stroke="#b8223f" stroke-width="1.3"/>
<line x1="357.6" y1="94.34" x2="357.6" y2="99.47" stroke="#b8223f" stroke-width="0.8"/>
<line x1="356.3" y1="94.34" x2="358.9" y2="94.34" stroke="#b8223f" stroke-width="0.8"/>
<line x1="356.3" y1="99.47" x2="358.9" y2="99.47" stroke="#b8223f" stroke-width="0.8"/>
<line x1="355.2" y1="43.83" x2="360" y2="43.83" stroke="#1f4d7e" stroke-width="1.3"/>
<line x1="357.6" y1="41.26" x2="357.6" y2="46.4" stroke="#1f4d7e" stroke-width="0.8"/>
<line x1="356.3" y1="41.26" x2="358.9" y2="41.26" stroke="#1f4d7e" stroke-width="0.8"/>
<line x1="356.3" y1="46.4" x2="358.9" y2="46.4" stroke="#1f4d7e" stroke-width="0.8"/>
<circle cx="370.8" cy="106.32" r="1.2" fill="#7e1728"/>
<circle cx="370.8" cy="103.75" r="1.2" fill="#7e1728"/>
<circle cx="370.8" cy="102.04" r="1.2" fill="#7e1728"/>
<circle cx="370.8" cy="100.33" r="1.2" fill="#7e1728"/>
<circle cx="370.8" cy="96.05" r="1.2" fill="#7e1728"/>
<circle cx="370.8" cy="44.69" r="1.2" fill="#161a22"/>
<circle cx="370.8" cy="39.55" r="1.2" fill="#161a22"/>
<circle cx="370.8" cy="37.84" r="1.2" fill="#161a22"/>
<circle cx="370.8" cy="35.27" r="1.2" fill="#161a22"/>
<line x1="368.4" y1="101.18" x2="373.2" y2="101.18" stroke="#b8223f" stroke-width="1.3"/>
<line x1="370.8" y1="98.62" x2="370.8" y2="103.75" stroke="#b8223f" stroke-width="0.8"/>
<line x1="369.5" y1="98.62" x2="372.1" y2="98.62" stroke="#b8223f" stroke-width="0.8"/>
<line x1="369.5" y1="103.75" x2="372.1" y2="103.75" stroke="#b8223f" stroke-width="0.8"/>
<line x1="368.4" y1="38.7" x2="373.2" y2="38.7" stroke="#1f4d7e" stroke-width="1.3"/>
<line x1="370.8" y1="36.13" x2="370.8" y2="41.26" stroke="#1f4d7e" stroke-width="0.8"/>
<line x1="369.5" y1="36.13" x2="372.1" y2="36.13" stroke="#1f4d7e" stroke-width="0.8"/>
<line x1="369.5" y1="41.26" x2="372.1" y2="41.26" stroke="#1f4d7e" stroke-width="0.8"/>
<circle cx="377.4" cy="108.03" r="1.2" fill="#7e1728"/>
<circle cx="377.4" cy="106.32" r="1.2" fill="#7e1728"/>
<circle cx="377.4" cy="103.75" r="1.2" fill="#7e1728"/>
<circle cx="377.4" cy="93.48" r="1.2" fill="#7e1728"/>
<circle cx="377.4" cy="47.26" r="1.2" fill="#161a22"/>
<circle cx="377.4" cy="42.98" r="1.2" fill="#161a22"/>
<circle cx="377.4" cy="40.41" r="1.2" fill="#161a22"/>
<circle cx="377.4" cy="36.13" r="1.2" fill="#161a22"/>
<line x1="375" y1="104.61" x2="379.8" y2="104.61" stroke="#b8223f" stroke-width="1.3"/>
<line x1="377.4" y1="102.04" x2="377.4" y2="107.18" stroke="#b8223f" stroke-width="0.8"/>
<line x1="376.1" y1="102.04" x2="378.7" y2="102.04" stroke="#b8223f" stroke-width="0.8"/>
<line x1="376.1" y1="107.18" x2="378.7" y2="107.18" stroke="#b8223f" stroke-width="0.8"/>
<line x1="375" y1="41.26" x2="379.8" y2="41.26" stroke="#1f4d7e" stroke-width="1.3"/>
<line x1="377.4" y1="38.7" x2="377.4" y2="43.83" stroke="#1f4d7e" stroke-width="0.8"/>
<line x1="376.1" y1="38.7" x2="378.7" y2="38.7" stroke="#1f4d7e" stroke-width="0.8"/>
<line x1="376.1" y1="43.83" x2="378.7" y2="43.83" stroke="#1f4d7e" stroke-width="0.8"/>
<circle cx="384" cy="105.46" r="1.2" fill="#7e1728"/>
<circle cx="384" cy="99.47" r="1.2" fill="#7e1728"/>
<circle cx="384" cy="97.76" r="1.2" fill="#7e1728"/>
<circle cx="384" cy="43.83" r="1.2" fill="#161a22"/>
<circle cx="384" cy="42.12" r="1.2" fill="#161a22"/>
<circle cx="384" cy="41.26" r="1.2" fill="#161a22"/>
<circle cx="384" cy="33.56" r="1.2" fill="#161a22"/>
<line x1="381.6" y1="98.62" x2="386.4" y2="98.62" stroke="#b8223f" stroke-width="1.3"/>
<line x1="384" y1="96.05" x2="384" y2="101.18" stroke="#b8223f" stroke-width="0.8"/>
<line x1="382.7" y1="96.05" x2="385.3" y2="96.05" stroke="#b8223f" stroke-width="0.8"/>
<line x1="382.7" y1="101.18" x2="385.3" y2="101.18" stroke="#b8223f" stroke-width="0.8"/>
<line x1="381.6" y1="42.12" x2="386.4" y2="42.12" stroke="#1f4d7e" stroke-width="1.3"/>
<line x1="384" y1="39.55" x2="384" y2="44.69" stroke="#1f4d7e" stroke-width="0.8"/>
<line x1="382.7" y1="39.55" x2="385.3" y2="39.55" stroke="#1f4d7e" stroke-width="0.8"/>
<line x1="382.7" y1="44.69" x2="385.3" y2="44.69" stroke="#1f4d7e" stroke-width="0.8"/>
<path d="M262.7,57.05 L262.7,59.35 M261.7,57.62 L263.7,58.78 M263.7,57.62 L261.7,58.78 M265.2,57.05 L265.2,59.35 M264.2,57.62 L266.2,58.78 M266.2,57.62 L264.2,58.78 M267.7,57.05 L267.7,59.35 M266.7,57.62 L268.7,58.78 M268.7,57.62 L266.7,58.78" stroke="#231f20" stroke-width="0.7" fill="none"/>
<path d="M275.9,42.55 L275.9,44.85 M274.9,43.12 L276.9,44.28 M276.9,43.12 L274.9,44.28 M278.4,42.55 L278.4,44.85 M277.4,43.12 L279.4,44.28 M279.4,43.12 L277.4,44.28 M280.9,42.55 L280.9,44.85 M279.9,43.12 L281.9,44.28 M281.9,43.12 L279.9,44.28" stroke="#231f20" stroke-width="0.7" fill="none"/>
<path d="M295.7,32.25 L295.7,34.55 M294.7,32.82 L296.7,33.98 M296.7,32.82 L294.7,33.98 M298.2,32.25 L298.2,34.55 M297.2,32.82 L299.2,33.98 M299.2,32.82 L297.2,33.98 M300.7,32.25 L300.7,34.55 M299.7,32.82 L301.7,33.98 M301.7,32.82 L299.7,33.98" stroke="#231f20" stroke-width="0.7" fill="none"/>
<path d="M302.3,35.15 L302.3,37.45 M301.3,35.72 L303.3,36.88 M303.3,35.72 L301.3,36.88 M304.8,35.15 L304.8,37.45 M303.8,35.72 L305.8,36.88 M305.8,35.72 L303.8,36.88 M307.3,35.15 L307.3,37.45 M306.3,35.72 L308.3,36.88 M308.3,35.72 L306.3,36.88" stroke="#231f20" stroke-width="0.7" fill="none"/>
<path d="M322.1,28.85 L322.1,31.15 M321.1,29.43 L323.1,30.57 M323.1,29.43 L321.1,30.57 M324.6,28.85 L324.6,31.15 M323.6,29.43 L325.6,30.57 M325.6,29.43 L323.6,30.57 M327.1,28.85 L327.1,31.15 M326.1,29.43 L328.1,30.57 M328.1,29.43 L326.1,30.57" stroke="#231f20" stroke-width="0.7" fill="none"/>
<path d="M328.7,32.45 L328.7,34.75 M327.7,33.02 L329.7,34.18 M329.7,33.02 L327.7,34.18 M331.2,32.45 L331.2,34.75 M330.2,33.02 L332.2,34.18 M332.2,33.02 L330.2,34.18 M333.7,32.45 L333.7,34.75 M332.7,33.02 L334.7,34.18 M334.7,33.02 L332.7,34.18" stroke="#231f20" stroke-width="0.7" fill="none"/>
<path d="M355.1,28.85 L355.1,31.15 M354.1,29.43 L356.1,30.57 M356.1,29.43 L354.1,30.57 M357.6,28.85 L357.6,31.15 M356.6,29.43 L358.6,30.57 M358.6,29.43 L356.6,30.57 M360.1,28.85 L360.1,31.15 M359.1,29.43 L361.1,30.57 M361.1,29.43 L359.1,30.57" stroke="#231f20" stroke-width="0.7" fill="none"/>
<path d="M368.3,26.55 L368.3,28.85 M367.3,27.12 L369.3,28.27 M369.3,27.12 L367.3,28.27 M370.8,26.55 L370.8,28.85 M369.8,27.12 L371.8,28.27 M371.8,27.12 L369.8,28.27 M373.3,26.55 L373.3,28.85 M372.3,27.12 L374.3,28.27 M374.3,27.12 L372.3,28.27" stroke="#231f20" stroke-width="0.7" fill="none"/>
<path d="M374.9,28.85 L374.9,31.15 M373.9,29.43 L375.9,30.57 M375.9,29.43 L373.9,30.57 M377.4,28.85 L377.4,31.15 M376.4,29.43 L378.4,30.57 M378.4,29.43 L376.4,30.57 M379.9,28.85 L379.9,31.15 M378.9,29.43 L380.9,30.57 M380.9,29.43 L378.9,30.57" stroke="#231f20" stroke-width="0.7" fill="none"/>
<path d="M381.5,26.55 L381.5,28.85 M380.5,27.12 L382.5,28.27 M382.5,27.12 L380.5,28.27 M384,26.55 L384,28.85 M383,27.12 L385,28.27 M385,27.12 L383,28.27 M386.5,26.55 L386.5,28.85 M385.5,27.12 L387.5,28.27 M387.5,27.12 L385.5,28.27" stroke="#231f20" stroke-width="0.7" fill="none"/>
<text x="404" y="16.3" font-size="10.6" fill="#111" font-weight="bold" textLength="7.6" lengthAdjust="spacingAndGlyphs">C</text>
<line x1="431.5" y1="36.2" x2="431.5" y2="111.2" stroke="#231f20" stroke-width="1"/>
<line x1="429.2" y1="110.5" x2="431.5" y2="110.5" stroke="#231f20" stroke-width="0.8"/>
<text x="426" y="112.91" font-size="6.3" text-anchor="end" textLength="3.3" lengthAdjust="spacingAndGlyphs" stroke="#231f20" stroke-width="0.13">0</text>
<line x1="429.2" y1="100.5" x2="431.5" y2="100.5" stroke="#231f20" stroke-width="0.8"/>
<text x="426" y="102.58" font-size="6.3" text-anchor="end" textLength="7.8" lengthAdjust="spacingAndGlyphs" stroke="#231f20" stroke-width="0.13">0.2</text>
<line x1="429.2" y1="90.5" x2="431.5" y2="90.5" stroke="#231f20" stroke-width="0.8"/>
<text x="426" y="92.27" font-size="6.3" text-anchor="end" textLength="7.8" lengthAdjust="spacingAndGlyphs" stroke="#231f20" stroke-width="0.13">0.4</text>
<line x1="429.2" y1="79.5" x2="431.5" y2="79.5" stroke="#231f20" stroke-width="0.8"/>
<text x="426" y="81.95" font-size="6.3" text-anchor="end" textLength="7.8" lengthAdjust="spacingAndGlyphs" stroke="#231f20" stroke-width="0.13">0.6</text>
<line x1="429.2" y1="69.5" x2="431.5" y2="69.5" stroke="#231f20" stroke-width="0.8"/>
<text x="426" y="71.62" font-size="6.3" text-anchor="end" textLength="7.8" lengthAdjust="spacingAndGlyphs" stroke="#231f20" stroke-width="0.13">0.8</text>
<line x1="429.2" y1="59.5" x2="431.5" y2="59.5" stroke="#231f20" stroke-width="0.8"/>
<text x="426" y="61.3" font-size="6.3" text-anchor="end" textLength="7.8" lengthAdjust="spacingAndGlyphs" stroke="#231f20" stroke-width="0.13">1.0</text>
<line x1="429.2" y1="48.5" x2="431.5" y2="48.5" stroke="#231f20" stroke-width="0.8"/>
<text x="426" y="50.98" font-size="6.3" text-anchor="end" textLength="7.8" lengthAdjust="spacingAndGlyphs" stroke="#231f20" stroke-width="0.13">1.2</text>
<line x1="429.2" y1="38.5" x2="431.5" y2="38.5" stroke="#231f20" stroke-width="0.8"/>
<text x="426" y="40.67" font-size="6.3" text-anchor="end" textLength="7.8" lengthAdjust="spacingAndGlyphs" stroke="#231f20" stroke-width="0.13">1.4</text>
<line x1="431" y1="110.5" x2="484" y2="110.5" stroke="#231f20" stroke-width="1"/>
<line x1="431.5" y1="110.5" x2="431.5" y2="113.1" stroke="#231f20" stroke-width="0.8"/>
<line x1="457.5" y1="110.5" x2="457.5" y2="113.1" stroke="#231f20" stroke-width="0.8"/>
<line x1="481.5" y1="110.5" x2="481.5" y2="113.1" stroke="#231f20" stroke-width="0.8"/>
<rect x="434" y="59.1" width="9.2" height="51.6" fill="#cc0a2f"/>
<line x1="438.6" y1="56" x2="438.6" y2="62.2" stroke="#231f20" stroke-width="0.7"/>
<line x1="437.4" y1="56" x2="439.8" y2="56" stroke="#231f20" stroke-width="0.7"/>
<rect x="445.9" y="64.26" width="9" height="46.44" fill="#17518d"/>
<line x1="450.4" y1="59.1" x2="450.4" y2="69.42" stroke="#231f20" stroke-width="0.7"/>
<line x1="449.2" y1="59.1" x2="451.6" y2="59.1" stroke="#231f20" stroke-width="0.7"/>
<rect x="459.4" y="60.13" width="8.9" height="50.57" fill="#cc0a2f"/>
<line x1="463.85" y1="56.52" x2="463.85" y2="63.74" stroke="#231f20" stroke-width="0.7"/>
<line x1="462.65" y1="56.52" x2="465.05" y2="56.52" stroke="#231f20" stroke-width="0.7"/>
<rect x="471" y="52.39" width="9" height="58.31" fill="#17518d"/>
<line x1="475.5" y1="47.75" x2="475.5" y2="57.04" stroke="#231f20" stroke-width="0.7"/>
<line x1="474.3" y1="47.75" x2="476.7" y2="47.75" stroke="#231f20" stroke-width="0.7"/>
<text x="444.3" y="122.5" font-size="6.8" text-anchor="middle" textLength="10" lengthAdjust="spacingAndGlyphs" stroke="#231f20" stroke-width="0.13">BM</text>
<text x="470" y="122.5" font-size="6.8" text-anchor="middle" textLength="19.2" lengthAdjust="spacingAndGlyphs" stroke="#231f20" stroke-width="0.13">Spleen</text>
<path d="M438.1,52.3 L438.1,51.3 L450,51.3 L450,52.3" fill="none" stroke="#231f20" stroke-width="0.8"/>
<text x="444.1" y="50" font-size="7" text-anchor="middle" textLength="8" lengthAdjust="spacingAndGlyphs" stroke="#231f20" stroke-width="0.13">NS</text>
<path d="M464.4,45 L464.4,44 L475.6,44 L475.6,45" fill="none" stroke="#231f20" stroke-width="0.8"/>
<text x="470.3" y="42.6" font-size="7" text-anchor="middle" textLength="8" lengthAdjust="spacingAndGlyphs" stroke="#231f20" stroke-width="0.13">NS</text>
<text x="411.59" y="73.8" font-size="8.3" text-anchor="middle" textLength="65.5" lengthAdjust="spacingAndGlyphs" transform="rotate(-90 411.59 73.8)" stroke="#231f20" stroke-width="0.13">Relative % homed cells</text>
<rect x="427.2" y="128.65" width="2.7" height="2.7" fill="#cc0a2f"/>
<text x="432.2" y="132.2" font-size="6.3" textLength="20" lengthAdjust="spacingAndGlyphs" stroke="#231f20" stroke-width="0.13">Control</text>
<rect x="461.2" y="128.65" width="2.7" height="2.7" fill="#17518d"/>
<text x="466.5" y="132.2" font-size="6.3" textLength="22.5" lengthAdjust="spacingAndGlyphs" stroke="#231f20" stroke-width="0.13">GW4869</text>
<text x="5.7" y="169.5" font-size="10.6" fill="#111" font-weight="bold" textLength="8.4" lengthAdjust="spacingAndGlyphs">D</text>
<line x1="45.5" y1="180" x2="45.5" y2="248.5" stroke="#231f20" stroke-width="1"/>
<line x1="42.5" y1="248.5" x2="45.5" y2="248.5" stroke="#231f20" stroke-width="0.8"/>
<text x="40.2" y="250.21" font-size="6.3" text-anchor="end" textLength="3.3" lengthAdjust="spacingAndGlyphs" stroke="#231f20" stroke-width="0.13">0</text>
<line x1="42.5" y1="238.5" x2="45.5" y2="238.5" stroke="#231f20" stroke-width="0.8"/>
<text x="40.2" y="240.78" font-size="6.3" text-anchor="end" textLength="6.6" lengthAdjust="spacingAndGlyphs" stroke="#231f20" stroke-width="0.13">10</text>
<line x1="42.5" y1="229.5" x2="45.5" y2="229.5" stroke="#231f20" stroke-width="0.8"/>
<text x="40.2" y="231.34" font-size="6.3" text-anchor="end" textLength="6.6" lengthAdjust="spacingAndGlyphs" stroke="#231f20" stroke-width="0.13">20</text>
<line x1="42.5" y1="219.5" x2="45.5" y2="219.5" stroke="#231f20" stroke-width="0.8"/>
<text x="40.2" y="221.92" font-size="6.3" text-anchor="end" textLength="6.6" lengthAdjust="spacingAndGlyphs" stroke="#231f20" stroke-width="0.13">30</text>
<line x1="42.5" y1="210.5" x2="45.5" y2="210.5" stroke="#231f20" stroke-width="0.8"/>
<text x="40.2" y="212.49" font-size="6.3" text-anchor="end" textLength="6.6" lengthAdjust="spacingAndGlyphs" stroke="#231f20" stroke-width="0.13">40</text>
<line x1="42.5" y1="200.5" x2="45.5" y2="200.5" stroke="#231f20" stroke-width="0.8"/>
<text x="40.2" y="203.06" font-size="6.3" text-anchor="end" textLength="6.6" lengthAdjust="spacingAndGlyphs" stroke="#231f20" stroke-width="0.13">50</text>
<line x1="42.5" y1="191.5" x2="45.5" y2="191.5" stroke="#231f20" stroke-width="0.8"/>
<text x="40.2" y="193.63" font-size="6.3" text-anchor="end" textLength="6.6" lengthAdjust="spacingAndGlyphs" stroke="#231f20" stroke-width="0.13">60</text>
<line x1="42.5" y1="181.5" x2="45.5" y2="181.5" stroke="#231f20" stroke-width="0.8"/>
<text x="40.2" y="184.2" font-size="6.3" text-anchor="end" textLength="6.6" lengthAdjust="spacingAndGlyphs" stroke="#231f20" stroke-width="0.13">70</text>
<line x1="45" y1="248.5" x2="131.3" y2="248.5" stroke="#231f20" stroke-width="1"/>
<line x1="66.5" y1="248.5" x2="66.5" y2="251.1" stroke="#231f20" stroke-width="0.8"/>
<line x1="87.5" y1="248.5" x2="87.5" y2="251.1" stroke="#231f20" stroke-width="0.8"/>
<line x1="108.5" y1="248.5" x2="108.5" y2="251.1" stroke="#231f20" stroke-width="0.8"/>
<line x1="130.5" y1="248.5" x2="130.5" y2="251.1" stroke="#231f20" stroke-width="0.8"/>
<rect x="48" y="195.19" width="7" height="52.81" fill="#cc0a2f"/>
<line x1="51.5" y1="194.63" x2="51.5" y2="195.76" stroke="#231f20" stroke-width="0.7"/>
<line x1="50.3" y1="194.63" x2="52.7" y2="194.63" stroke="#231f20" stroke-width="0.7"/>
<rect x="57.5" y="188.59" width="7" height="59.41" fill="#17518d"/>
<line x1="61" y1="188.12" x2="61" y2="189.06" stroke="#231f20" stroke-width="0.7"/>
<line x1="59.8" y1="188.12" x2="62.2" y2="188.12" stroke="#231f20" stroke-width="0.7"/>
<rect x="68.8" y="233.85" width="7" height="14.15" fill="#cc0a2f"/>
<line x1="72.3" y1="233.38" x2="72.3" y2="234.33" stroke="#231f20" stroke-width="0.7"/>
<line x1="71.1" y1="233.38" x2="73.5" y2="233.38" stroke="#231f20" stroke-width="0.7"/>
<rect x="78" y="239.04" width="7" height="8.96" fill="#17518d"/>
<line x1="81.5" y1="238.66" x2="81.5" y2="239.42" stroke="#231f20" stroke-width="0.7"/>
<line x1="80.3" y1="238.66" x2="82.7" y2="238.66" stroke="#231f20" stroke-width="0.7"/>
<rect x="89.5" y="237.16" width="7" height="10.84" fill="#cc0a2f"/>
<line x1="93" y1="236.68" x2="93" y2="237.63" stroke="#231f20" stroke-width="0.7"/>
<line x1="91.8" y1="236.68" x2="94.2" y2="236.68" stroke="#231f20" stroke-width="0.7"/>
<rect x="98.8" y="237.16" width="7" height="10.84" fill="#17518d"/>
<line x1="102.3" y1="236.68" x2="102.3" y2="237.63" stroke="#231f20" stroke-width="0.7"/>
<line x1="101.1" y1="236.68" x2="103.5" y2="236.68" stroke="#231f20" stroke-width="0.7"/>
<rect x="110" y="235.74" width="7" height="12.26" fill="#cc0a2f"/>
<line x1="113.5" y1="235.27" x2="113.5" y2="236.21" stroke="#231f20" stroke-width="0.7"/>
<line x1="112.3" y1="235.27" x2="114.7" y2="235.27" stroke="#231f20" stroke-width="0.7"/>
<rect x="119.5" y="236.21" width="7" height="11.79" fill="#17518d"/>
<line x1="123" y1="235.74" x2="123" y2="236.68" stroke="#231f20" stroke-width="0.7"/>
<line x1="121.8" y1="235.74" x2="124.2" y2="235.74" stroke="#231f20" stroke-width="0.7"/>
<path d="M53.3,176.45 L53.3,178.75 M52.3,177.03 L54.3,178.17 M54.3,177.03 L52.3,178.17 M56.25,176.45 L56.25,178.75 M55.25,177.03 L57.25,178.17 M57.25,177.03 L55.25,178.17 M59.2,176.45 L59.2,178.75 M58.2,177.03 L60.2,178.17 M60.2,177.03 L58.2,178.17" stroke="#231f20" stroke-width="0.7" fill="none"/>
<path d="M50.8,183.2 L50.8,182.2 L61.2,182.2 L61.2,183.2" fill="none" stroke="#231f20" stroke-width="0.8"/>
<path d="M73.55,222.85 L73.55,225.15 M72.55,223.43 L74.55,224.57 M74.55,223.43 L72.55,224.57 M76.5,222.85 L76.5,225.15 M75.5,223.43 L77.5,224.57 M77.5,223.43 L75.5,224.57 M79.45,222.85 L79.45,225.15 M78.45,223.43 L80.45,224.57 M80.45,223.43 L78.45,224.57" stroke="#231f20" stroke-width="0.7" fill="none"/>
<path d="M72.5,230.6 L72.5,229.6 L81,229.6 L81,230.6" fill="none" stroke="#231f20" stroke-width="0.8"/>
<text x="60.5" y="253.3" font-size="7.9" text-anchor="end" textLength="8.2" lengthAdjust="spacingAndGlyphs" transform="rotate(-45 60.5 253.3)" stroke="#231f20" stroke-width="0.13">G0</text>
<text x="80.8" y="253.3" font-size="7.9" text-anchor="end" textLength="7.6" lengthAdjust="spacingAndGlyphs" transform="rotate(-45 80.8 253.3)" stroke="#231f20" stroke-width="0.13">G1</text>
<text x="106.5" y="254.6" font-size="7.9" text-anchor="end" textLength="22.5" lengthAdjust="spacingAndGlyphs" transform="rotate(-45 106.5 254.6)" stroke="#231f20" stroke-width="0.13">S/G2/M</text>
<text x="126.2" y="254.6" font-size="7.9" text-anchor="end" textLength="29" lengthAdjust="spacingAndGlyphs" transform="rotate(-45 126.2 254.6)" stroke="#231f20" stroke-width="0.13">Apoptotic</text>
<text x="88.5" y="286.7" font-size="8.6" text-anchor="middle" textLength="46.5" lengthAdjust="spacingAndGlyphs" stroke="#231f20" stroke-width="0.13">Cell cycle phase</text>
<rect x="57" y="294.95" width="2.7" height="2.7" fill="#cc0a2f"/>
<text x="62" y="298.4" font-size="6.3" textLength="19" lengthAdjust="spacingAndGlyphs" stroke="#231f20" stroke-width="0.13">Control</text>
<rect x="91" y="294.95" width="2.7" height="2.7" fill="#17518d"/>
<text x="96" y="298.4" font-size="6.3" textLength="23.5" lengthAdjust="spacingAndGlyphs" stroke="#231f20" stroke-width="0.13">GW4869</text>
<text x="15.14" y="213.6" font-size="8.3" text-anchor="middle" textLength="68.7" lengthAdjust="spacingAndGlyphs" transform="rotate(-90 15.14 213.6)" stroke="#231f20" stroke-width="0.13">% of cells after 24-hour</text>
<text x="24.34" y="213.6" font-size="8.3" text-anchor="middle" textLength="57.4" lengthAdjust="spacingAndGlyphs" transform="rotate(-90 24.34 213.6)" stroke="#231f20" stroke-width="0.13">GW4869 treatment</text>
<text x="147" y="169.5" font-size="10.6" fill="#111" font-weight="bold" textLength="7.3" lengthAdjust="spacingAndGlyphs">E</text>
<line x1="182.5" y1="180.7" x2="182.5" y2="248.1" stroke="#231f20" stroke-width="1"/>
<line x1="179.5" y1="247.5" x2="182.5" y2="247.5" stroke="#231f20" stroke-width="0.8"/>
<text x="177" y="249.81" font-size="6.3" text-anchor="end" textLength="3.3" lengthAdjust="spacingAndGlyphs" stroke="#231f20" stroke-width="0.13">0</text>
<line x1="179.5" y1="236.5" x2="182.5" y2="236.5" stroke="#231f20" stroke-width="0.8"/>
<text x="177" y="238.97" font-size="6.3" text-anchor="end" textLength="6.6" lengthAdjust="spacingAndGlyphs" stroke="#231f20" stroke-width="0.13">10</text>
<line x1="179.5" y1="225.5" x2="182.5" y2="225.5" stroke="#231f20" stroke-width="0.8"/>
<text x="177" y="228.15" font-size="6.3" text-anchor="end" textLength="6.6" lengthAdjust="spacingAndGlyphs" stroke="#231f20" stroke-width="0.13">20</text>
<line x1="179.5" y1="215.5" x2="182.5" y2="215.5" stroke="#231f20" stroke-width="0.8"/>
<text x="177" y="217.31" font-size="6.3" text-anchor="end" textLength="6.6" lengthAdjust="spacingAndGlyphs" stroke="#231f20" stroke-width="0.13">30</text>
<line x1="179.5" y1="204.5" x2="182.5" y2="204.5" stroke="#231f20" stroke-width="0.8"/>
<text x="177" y="206.49" font-size="6.3" text-anchor="end" textLength="6.6" lengthAdjust="spacingAndGlyphs" stroke="#231f20" stroke-width="0.13">40</text>
<line x1="179.5" y1="193.5" x2="182.5" y2="193.5" stroke="#231f20" stroke-width="0.8"/>
<text x="177" y="195.66" font-size="6.3" text-anchor="end" textLength="6.6" lengthAdjust="spacingAndGlyphs" stroke="#231f20" stroke-width="0.13">50</text>
<line x1="179.5" y1="182.5" x2="182.5" y2="182.5" stroke="#231f20" stroke-width="0.8"/>
<text x="177" y="184.83" font-size="6.3" text-anchor="end" textLength="6.6" lengthAdjust="spacingAndGlyphs" stroke="#231f20" stroke-width="0.13">60</text>
<line x1="182" y1="247.5" x2="268.8" y2="247.5" stroke="#231f20" stroke-width="1"/>
<line x1="203.5" y1="247.5" x2="203.5" y2="250.1" stroke="#231f20" stroke-width="0.8"/>
<line x1="224.5" y1="247.5" x2="224.5" y2="250.1" stroke="#231f20" stroke-width="0.8"/>
<line x1="245.5" y1="247.5" x2="245.5" y2="250.1" stroke="#231f20" stroke-width="0.8"/>
<line x1="266.5" y1="247.5" x2="266.5" y2="250.1" stroke="#231f20" stroke-width="0.8"/>
<rect x="184.5" y="195.07" width="7" height="52.53" fill="#cc0a2f"/>
<line x1="188" y1="192.37" x2="188" y2="197.78" stroke="#231f20" stroke-width="0.7"/>
<line x1="186.8" y1="192.37" x2="189.2" y2="192.37" stroke="#231f20" stroke-width="0.7"/>
<rect x="193.8" y="211.32" width="7" height="36.28" fill="#17518d"/>
<line x1="197.3" y1="207.53" x2="197.3" y2="215.11" stroke="#231f20" stroke-width="0.7"/>
<line x1="196.1" y1="207.53" x2="198.5" y2="207.53" stroke="#231f20" stroke-width="0.7"/>
<rect x="205" y="227.56" width="7" height="20.04" fill="#cc0a2f"/>
<line x1="208.5" y1="225.94" x2="208.5" y2="229.19" stroke="#231f20" stroke-width="0.7"/>
<line x1="207.3" y1="225.94" x2="209.7" y2="225.94" stroke="#231f20" stroke-width="0.7"/>
<rect x="214.5" y="225.4" width="7" height="22.2" fill="#17518d"/>
<line x1="218" y1="224.32" x2="218" y2="226.48" stroke="#231f20" stroke-width="0.7"/>
<line x1="216.8" y1="224.32" x2="219.2" y2="224.32" stroke="#231f20" stroke-width="0.7"/>
<rect x="225.8" y="219.44" width="7" height="28.16" fill="#cc0a2f"/>
<line x1="229.3" y1="218.36" x2="229.3" y2="220.53" stroke="#231f20" stroke-width="0.7"/>
<line x1="228.1" y1="218.36" x2="230.5" y2="218.36" stroke="#231f20" stroke-width="0.7"/>
<rect x="235.3" y="209.15" width="7" height="38.45" fill="#17518d"/>
<line x1="238.8" y1="207.53" x2="238.8" y2="210.78" stroke="#231f20" stroke-width="0.7"/>
<line x1="237.6" y1="207.53" x2="240" y2="207.53" stroke="#231f20" stroke-width="0.7"/>
<rect x="246" y="246.52" width="6.5" height="1.08" fill="#cc0a2f"/>
<line x1="249.25" y1="246.08" x2="249.25" y2="246.95" stroke="#231f20" stroke-width="0.7"/>
<line x1="248.05" y1="246.08" x2="250.45" y2="246.08" stroke="#231f20" stroke-width="0.7"/>
<rect x="256" y="246.73" width="6.5" height="0.87" fill="#17518d"/>
<line x1="259.25" y1="246.41" x2="259.25" y2="247.06" stroke="#231f20" stroke-width="0.7"/>
<line x1="258.05" y1="246.41" x2="260.45" y2="246.41" stroke="#231f20" stroke-width="0.7"/>
<path d="M192.3,180.65 L192.3,182.95 M191.3,181.23 L193.3,182.38 M193.3,181.23 L191.3,182.38" stroke="#231f20" stroke-width="0.7" fill="none"/>
<path d="M188,188 L188,187 L197,187 L197,188" fill="none" stroke="#231f20" stroke-width="0.8"/>
<path d="M234.5,197.85 L234.5,200.15 M233.5,198.43 L235.5,199.57 M235.5,198.43 L233.5,199.57" stroke="#231f20" stroke-width="0.7" fill="none"/>
<path d="M229,205 L229,204 L239.5,204 L239.5,205" fill="none" stroke="#231f20" stroke-width="0.8"/>
<text x="197.6" y="254.8" font-size="7.9" text-anchor="end" textLength="8.2" lengthAdjust="spacingAndGlyphs" transform="rotate(-45 197.6 254.8)" stroke="#231f20" stroke-width="0.13">G0</text>
<text x="217" y="254.8" font-size="7.9" text-anchor="end" textLength="7.6" lengthAdjust="spacingAndGlyphs" transform="rotate(-45 217 254.8)" stroke="#231f20" stroke-width="0.13">G1</text>
<text x="240.2" y="255.3" font-size="7.9" text-anchor="end" textLength="22.5" lengthAdjust="spacingAndGlyphs" transform="rotate(-45 240.2 255.3)" stroke="#231f20" stroke-width="0.13">S/G2/M</text>
<text x="262.2" y="255.3" font-size="7.9" text-anchor="end" textLength="29" lengthAdjust="spacingAndGlyphs" transform="rotate(-45 262.2 255.3)" stroke="#231f20" stroke-width="0.13">Apoptotic</text>
<text x="225.5" y="287.4" font-size="8.6" text-anchor="middle" textLength="47" lengthAdjust="spacingAndGlyphs" stroke="#231f20" stroke-width="0.13">Cell cycle phase</text>
<rect x="193.4" y="293.95" width="2.7" height="2.7" fill="#cc0a2f"/>
<text x="199" y="297.4" font-size="6.3" textLength="20" lengthAdjust="spacingAndGlyphs" stroke="#231f20" stroke-width="0.13">Control</text>
<rect x="229.4" y="293.95" width="2.7" height="2.7" fill="#17518d"/>
<text x="233.8" y="297.4" font-size="6.3" textLength="24.5" lengthAdjust="spacingAndGlyphs" stroke="#231f20" stroke-width="0.13">GW4869</text>
<text x="153.96" y="213.9" font-size="8.3" text-anchor="middle" textLength="61" lengthAdjust="spacingAndGlyphs" transform="rotate(-90 153.96 213.9)" stroke="#231f20" stroke-width="0.13">% of cells after 5-day</text>
<text x="163.99" y="213.5" font-size="8.3" text-anchor="middle" textLength="60" lengthAdjust="spacingAndGlyphs" transform="rotate(-90 163.99 213.5)" stroke="#231f20" stroke-width="0.13">GW4869 withdrawal</text>
<text x="5.7" y="323.8" font-size="10.6" fill="#111" font-weight="bold" textLength="9.4" lengthAdjust="spacingAndGlyphs">G</text>
<line x1="45.5" y1="332.4" x2="45.5" y2="424.3" stroke="#231f20" stroke-width="1"/>
<line x1="42.5" y1="423.5" x2="45.5" y2="423.5" stroke="#231f20" stroke-width="0.8"/>
<text x="39.9" y="426" font-size="6.3" text-anchor="end" textLength="3.3" lengthAdjust="spacingAndGlyphs" stroke="#231f20" stroke-width="0.13">0</text>
<line x1="42.5" y1="414.5" x2="45.5" y2="414.5" stroke="#231f20" stroke-width="0.8"/>
<text x="39.9" y="417" font-size="6.3" text-anchor="end" textLength="6.6" lengthAdjust="spacingAndGlyphs" stroke="#231f20" stroke-width="0.13">10</text>
<line x1="42.5" y1="405.5" x2="45.5" y2="405.5" stroke="#231f20" stroke-width="0.8"/>
<text x="39.9" y="408" font-size="6.3" text-anchor="end" textLength="6.6" lengthAdjust="spacingAndGlyphs" stroke="#231f20" stroke-width="0.13">20</text>
<line x1="42.5" y1="396.5" x2="45.5" y2="396.5" stroke="#231f20" stroke-width="0.8"/>
<text x="39.9" y="399" font-size="6.3" text-anchor="end" textLength="6.6" lengthAdjust="spacingAndGlyphs" stroke="#231f20" stroke-width="0.13">30</text>
<line x1="42.5" y1="387.5" x2="45.5" y2="387.5" stroke="#231f20" stroke-width="0.8"/>
<text x="39.9" y="390" font-size="6.3" text-anchor="end" textLength="6.6" lengthAdjust="spacingAndGlyphs" stroke="#231f20" stroke-width="0.13">40</text>
<line x1="42.5" y1="378.5" x2="45.5" y2="378.5" stroke="#231f20" stroke-width="0.8"/>
<text x="39.9" y="381" font-size="6.3" text-anchor="end" textLength="6.6" lengthAdjust="spacingAndGlyphs" stroke="#231f20" stroke-width="0.13">50</text>
<line x1="42.5" y1="369.5" x2="45.5" y2="369.5" stroke="#231f20" stroke-width="0.8"/>
<text x="39.9" y="372" font-size="6.3" text-anchor="end" textLength="6.6" lengthAdjust="spacingAndGlyphs" stroke="#231f20" stroke-width="0.13">60</text>
<line x1="42.5" y1="360.5" x2="45.5" y2="360.5" stroke="#231f20" stroke-width="0.8"/>
<text x="39.9" y="363" font-size="6.3" text-anchor="end" textLength="6.6" lengthAdjust="spacingAndGlyphs" stroke="#231f20" stroke-width="0.13">70</text>
<line x1="42.5" y1="351.5" x2="45.5" y2="351.5" stroke="#231f20" stroke-width="0.8"/>
<text x="39.9" y="354" font-size="6.3" text-anchor="end" textLength="6.6" lengthAdjust="spacingAndGlyphs" stroke="#231f20" stroke-width="0.13">80</text>
<line x1="42.5" y1="342.5" x2="45.5" y2="342.5" stroke="#231f20" stroke-width="0.8"/>
<text x="39.9" y="345" font-size="6.3" text-anchor="end" textLength="6.6" lengthAdjust="spacingAndGlyphs" stroke="#231f20" stroke-width="0.13">90</text>
<line x1="42.5" y1="333.5" x2="45.5" y2="333.5" stroke="#231f20" stroke-width="0.8"/>
<text x="39.9" y="336" font-size="6.3" text-anchor="end" textLength="9.9" lengthAdjust="spacingAndGlyphs" stroke="#231f20" stroke-width="0.13">100</text>
<line x1="45" y1="423.5" x2="147.5" y2="423.5" stroke="#231f20" stroke-width="1"/>
<line x1="45.5" y1="423.5" x2="45.5" y2="426.1" stroke="#231f20" stroke-width="0.8"/>
<line x1="61.5" y1="423.5" x2="61.5" y2="426.1" stroke="#231f20" stroke-width="0.8"/>
<line x1="76.5" y1="423.5" x2="76.5" y2="426.1" stroke="#231f20" stroke-width="0.8"/>
<line x1="92.5" y1="423.5" x2="92.5" y2="426.1" stroke="#231f20" stroke-width="0.8"/>
<line x1="108.5" y1="423.5" x2="108.5" y2="426.1" stroke="#231f20" stroke-width="0.8"/>
<line x1="123.5" y1="423.5" x2="123.5" y2="426.1" stroke="#231f20" stroke-width="0.8"/>
<line x1="139.5" y1="423.5" x2="139.5" y2="426.1" stroke="#231f20" stroke-width="0.8"/>
<text x="45.5" y="435.2" font-size="6.5" text-anchor="middle" stroke="#231f20" stroke-width="0.13">0</text>
<text x="61.14" y="435.2" font-size="6.5" text-anchor="middle" stroke="#231f20" stroke-width="0.13">4</text>
<text x="76.78" y="435.2" font-size="6.5" text-anchor="middle" stroke="#231f20" stroke-width="0.13">8</text>
<text x="92.42" y="435.2" font-size="6.5" text-anchor="middle" stroke="#231f20" stroke-width="0.13">12</text>
<text x="108.06" y="435.2" font-size="6.5" text-anchor="middle" stroke="#231f20" stroke-width="0.13">16</text>
<text x="123.7" y="435.2" font-size="6.5" text-anchor="middle" stroke="#231f20" stroke-width="0.13">20</text>
<text x="139.34" y="435.2" font-size="6.5" text-anchor="middle" stroke="#231f20" stroke-width="0.13">24</text>
<text x="97" y="447" font-size="8.6" text-anchor="middle" textLength="111.5" lengthAdjust="spacingAndGlyphs" stroke="#231f20" stroke-width="0.13">Weeks post-secondary transplantation</text>
<text x="24.16" y="377.8" font-size="8.3" text-anchor="middle" textLength="89.5" lengthAdjust="spacingAndGlyphs" transform="rotate(-90 24.16 377.8)" stroke="#231f20" stroke-width="0.13">% peripheral blood chimerism</text>
<circle cx="67" cy="454.6" r="1.1" fill="#8c1d2e"/>
<text x="70.2" y="456.8" font-size="6.3" textLength="20.3" lengthAdjust="spacingAndGlyphs" stroke="#231f20" stroke-width="0.13">Control</text>
<circle cx="100" cy="454.6" r="1.1" fill="#14233a"/>
<text x="103.8" y="456.8" font-size="6.3" textLength="23.7" lengthAdjust="spacingAndGlyphs" stroke="#231f20" stroke-width="0.13">GW4869</text>
<circle cx="61.14" cy="379.7" r="1.7" fill="#16304f"/>
<circle cx="61.14" cy="376.1" r="1.7" fill="#16304f"/>
<circle cx="61.14" cy="368.9" r="1.7" fill="#16304f"/>
<circle cx="61.14" cy="367.1" r="1.7" fill="#16304f"/>
<circle cx="61.14" cy="364.4" r="1.7" fill="#16304f"/>
<circle cx="61.14" cy="361.7" r="1.7" fill="#16304f"/>
<circle cx="61.14" cy="359" r="1.7" fill="#16304f"/>
<circle cx="61.14" cy="356.3" r="1.7" fill="#16304f"/>
<line x1="58.34" y1="366.2" x2="63.94" y2="366.2" stroke="#3a7bb8" stroke-width="0.9"/>
<circle cx="61.14" cy="423.8" r="1.7" fill="#7d1a2c"/>
<circle cx="61.14" cy="422.9" r="1.7" fill="#7d1a2c"/>
<circle cx="61.14" cy="422" r="1.7" fill="#7d1a2c"/>
<circle cx="61.14" cy="421.1" r="1.7" fill="#7d1a2c"/>
<circle cx="61.14" cy="419.3" r="1.7" fill="#7d1a2c"/>
<circle cx="61.14" cy="418.4" r="1.7" fill="#7d1a2c"/>
<circle cx="61.14" cy="411.2" r="1.7" fill="#7d1a2c"/>
<circle cx="61.14" cy="396.8" r="1.7" fill="#7d1a2c"/>
<line x1="58.34" y1="418.4" x2="63.94" y2="418.4" stroke="#e0435e" stroke-width="0.9"/>
<circle cx="76.78" cy="358.1" r="1.7" fill="#16304f"/>
<circle cx="76.78" cy="356.3" r="1.7" fill="#16304f"/>
<circle cx="76.78" cy="354.5" r="1.7" fill="#16304f"/>
<circle cx="76.78" cy="352.7" r="1.7" fill="#16304f"/>
<circle cx="76.78" cy="350.9" r="1.7" fill="#16304f"/>
<circle cx="76.78" cy="349.1" r="1.7" fill="#16304f"/>
<circle cx="76.78" cy="347.3" r="1.7" fill="#16304f"/>
<line x1="73.98" y1="350.9" x2="79.58" y2="350.9" stroke="#3a7bb8" stroke-width="0.9"/>
<circle cx="76.78" cy="423.8" r="1.7" fill="#7d1a2c"/>
<circle cx="76.78" cy="422.9" r="1.7" fill="#7d1a2c"/>
<circle cx="76.78" cy="422" r="1.7" fill="#7d1a2c"/>
<circle cx="76.78" cy="421.1" r="1.7" fill="#7d1a2c"/>
<circle cx="76.78" cy="419.3" r="1.7" fill="#7d1a2c"/>
<circle cx="76.78" cy="417.5" r="1.7" fill="#7d1a2c"/>
<circle cx="76.78" cy="415.7" r="1.7" fill="#7d1a2c"/>
<line x1="73.98" y1="420.2" x2="79.58" y2="420.2" stroke="#e0435e" stroke-width="0.9"/>
<circle cx="92.42" cy="353.6" r="1.7" fill="#16304f"/>
<circle cx="92.42" cy="350.9" r="1.7" fill="#16304f"/>
<circle cx="92.42" cy="349.1" r="1.7" fill="#16304f"/>
<circle cx="92.42" cy="347.3" r="1.7" fill="#16304f"/>
<circle cx="92.42" cy="345.5" r="1.7" fill="#16304f"/>
<circle cx="92.42" cy="343.7" r="1.7" fill="#16304f"/>
<circle cx="92.42" cy="342.8" r="1.7" fill="#16304f"/>
<line x1="89.62" y1="346.4" x2="95.22" y2="346.4" stroke="#3a7bb8" stroke-width="0.9"/>
<circle cx="92.42" cy="423.8" r="1.7" fill="#7d1a2c"/>
<circle cx="92.42" cy="422.9" r="1.7" fill="#7d1a2c"/>
<circle cx="92.42" cy="422" r="1.7" fill="#7d1a2c"/>
<circle cx="92.42" cy="420.2" r="1.7" fill="#7d1a2c"/>
<circle cx="92.42" cy="418.4" r="1.7" fill="#7d1a2c"/>
<circle cx="92.42" cy="417.5" r="1.7" fill="#7d1a2c"/>
<line x1="89.62" y1="421.1" x2="95.22" y2="421.1" stroke="#e0435e" stroke-width="0.9"/>
<circle cx="108.06" cy="352.7" r="1.7" fill="#16304f"/>
<circle cx="108.06" cy="350" r="1.7" fill="#16304f"/>
<circle cx="108.06" cy="348.2" r="1.7" fill="#16304f"/>
<circle cx="108.06" cy="346.4" r="1.7" fill="#16304f"/>
<circle cx="108.06" cy="344.6" r="1.7" fill="#16304f"/>
<circle cx="108.06" cy="342.8" r="1.7" fill="#16304f"/>
<circle cx="108.06" cy="341" r="1.7" fill="#16304f"/>
<line x1="105.26" y1="345.5" x2="110.86" y2="345.5" stroke="#3a7bb8" stroke-width="0.9"/>
<circle cx="108.06" cy="423.8" r="1.7" fill="#7d1a2c"/>
<circle cx="108.06" cy="422.9" r="1.7" fill="#7d1a2c"/>
<circle cx="108.06" cy="422" r="1.7" fill="#7d1a2c"/>
<circle cx="108.06" cy="420.2" r="1.7" fill="#7d1a2c"/>
<circle cx="108.06" cy="418.4" r="1.7" fill="#7d1a2c"/>
<circle cx="108.06" cy="417.5" r="1.7" fill="#7d1a2c"/>
<line x1="105.26" y1="421.1" x2="110.86" y2="421.1" stroke="#e0435e" stroke-width="0.9"/>
<circle cx="123.7" cy="354.5" r="1.7" fill="#16304f"/>
<circle cx="123.7" cy="350.9" r="1.7" fill="#16304f"/>
<circle cx="123.7" cy="349.1" r="1.7" fill="#16304f"/>
<circle cx="123.7" cy="346.4" r="1.7" fill="#16304f"/>
<circle cx="123.7" cy="344.6" r="1.7" fill="#16304f"/>
<circle cx="123.7" cy="342.8" r="1.7" fill="#16304f"/>
<circle cx="123.7" cy="341" r="1.7" fill="#16304f"/>
<line x1="120.9" y1="345.5" x2="126.5" y2="345.5" stroke="#3a7bb8" stroke-width="0.9"/>
<circle cx="123.7" cy="423.8" r="1.7" fill="#7d1a2c"/>
<circle cx="123.7" cy="422.9" r="1.7" fill="#7d1a2c"/>
<circle cx="123.7" cy="422" r="1.7" fill="#7d1a2c"/>
<circle cx="123.7" cy="420.2" r="1.7" fill="#7d1a2c"/>
<circle cx="123.7" cy="418.4" r="1.7" fill="#7d1a2c"/>
<circle cx="123.7" cy="417.5" r="1.7" fill="#7d1a2c"/>
<line x1="120.9" y1="421.1" x2="126.5" y2="421.1" stroke="#e0435e" stroke-width="0.9"/>
<circle cx="139.34" cy="356.3" r="1.7" fill="#16304f"/>
<circle cx="139.34" cy="353.6" r="1.7" fill="#16304f"/>
<circle cx="139.34" cy="350" r="1.7" fill="#16304f"/>
<circle cx="139.34" cy="347.3" r="1.7" fill="#16304f"/>
<circle cx="139.34" cy="344.6" r="1.7" fill="#16304f"/>
<circle cx="139.34" cy="342.8" r="1.7" fill="#16304f"/>
<circle cx="139.34" cy="341" r="1.7" fill="#16304f"/>
<circle cx="139.34" cy="340.1" r="1.7" fill="#16304f"/>
<line x1="136.54" y1="345.5" x2="142.14" y2="345.5" stroke="#3a7bb8" stroke-width="0.9"/>
<circle cx="139.34" cy="423.8" r="1.7" fill="#7d1a2c"/>
<circle cx="139.34" cy="422.9" r="1.7" fill="#7d1a2c"/>
<circle cx="139.34" cy="422" r="1.7" fill="#7d1a2c"/>
<circle cx="139.34" cy="420.2" r="1.7" fill="#7d1a2c"/>
<circle cx="139.34" cy="418.4" r="1.7" fill="#7d1a2c"/>
<circle cx="139.34" cy="415.7" r="1.7" fill="#7d1a2c"/>
<line x1="136.54" y1="421.1" x2="142.14" y2="421.1" stroke="#e0435e" stroke-width="0.9"/>
<path d="M58.19,348.35 L58.19,350.65 M57.19,348.93 L59.19,350.07 M59.19,348.93 L57.19,350.07 M61.14,348.35 L61.14,350.65 M60.14,348.93 L62.14,350.07 M62.14,348.93 L60.14,350.07 M64.09,348.35 L64.09,350.65 M63.09,348.93 L65.09,350.07 M65.09,348.93 L63.09,350.07" stroke="#231f20" stroke-width="0.7" fill="none"/>
<path d="M73.83,336.85 L73.83,339.15 M72.83,337.43 L74.83,338.57 M74.83,337.43 L72.83,338.57 M76.78,336.85 L76.78,339.15 M75.78,337.43 L77.78,338.57 M77.78,337.43 L75.78,338.57 M79.73,336.85 L79.73,339.15 M78.73,337.43 L80.73,338.57 M80.73,337.43 L78.73,338.57" stroke="#231f20" stroke-width="0.7" fill="none"/>
<path d="M89.47,334.05 L89.47,336.35 M88.47,334.62 L90.47,335.77 M90.47,334.62 L88.47,335.77 M92.42,334.05 L92.42,336.35 M91.42,334.62 L93.42,335.77 M93.42,334.62 L91.42,335.77 M95.37,334.05 L95.37,336.35 M94.37,334.62 L96.37,335.77 M96.37,334.62 L94.37,335.77" stroke="#231f20" stroke-width="0.7" fill="none"/>
<path d="M105.11,333.35 L105.11,335.65 M104.11,333.93 L106.11,335.07 M106.11,333.93 L104.11,335.07 M108.06,333.35 L108.06,335.65 M107.06,333.93 L109.06,335.07 M109.06,333.93 L107.06,335.07 M111.01,333.35 L111.01,335.65 M110.01,333.93 L112.01,335.07 M112.01,333.93 L110.01,335.07" stroke="#231f20" stroke-width="0.7" fill="none"/>
<path d="M120.75,333.65 L120.75,335.95 M119.75,334.23 L121.75,335.38 M121.75,334.23 L119.75,335.38 M123.7,333.65 L123.7,335.95 M122.7,334.23 L124.7,335.38 M124.7,334.23 L122.7,335.38 M126.65,333.65 L126.65,335.95 M125.65,334.23 L127.65,335.38 M127.65,334.23 L125.65,335.38" stroke="#231f20" stroke-width="0.7" fill="none"/>
<path d="M136.39,333.05 L136.39,335.35 M135.39,333.62 L137.39,334.77 M137.39,333.62 L135.39,334.77 M139.34,333.05 L139.34,335.35 M138.34,333.62 L140.34,334.77 M140.34,333.62 L138.34,334.77 M142.29,333.05 L142.29,335.35 M141.29,333.62 L143.29,334.77 M143.29,333.62 L141.29,334.77" stroke="#231f20" stroke-width="0.7" fill="none"/>
<text x="167.5" y="323.8" font-size="10.6" fill="#111" font-weight="bold" textLength="9" lengthAdjust="spacingAndGlyphs">H</text>
<line x1="201.5" y1="337.9" x2="201.5" y2="424.1" stroke="#231f20" stroke-width="1"/>
<line x1="198.5" y1="423.5" x2="201.5" y2="423.5" stroke="#231f20" stroke-width="0.8"/>
<text x="195.7" y="425.81" font-size="6.3" text-anchor="end" textLength="3.3" lengthAdjust="spacingAndGlyphs" stroke="#231f20" stroke-width="0.13">0</text>
<line x1="198.5" y1="411.5" x2="201.5" y2="411.5" stroke="#231f20" stroke-width="0.8"/>
<text x="195.7" y="413.74" font-size="6.3" text-anchor="end" textLength="6.6" lengthAdjust="spacingAndGlyphs" stroke="#231f20" stroke-width="0.13">10</text>
<line x1="198.5" y1="399.5" x2="201.5" y2="399.5" stroke="#231f20" stroke-width="0.8"/>
<text x="195.7" y="401.67" font-size="6.3" text-anchor="end" textLength="6.6" lengthAdjust="spacingAndGlyphs" stroke="#231f20" stroke-width="0.13">20</text>
<line x1="198.5" y1="387.5" x2="201.5" y2="387.5" stroke="#231f20" stroke-width="0.8"/>
<text x="195.7" y="389.6" font-size="6.3" text-anchor="end" textLength="6.6" lengthAdjust="spacingAndGlyphs" stroke="#231f20" stroke-width="0.13">30</text>
<line x1="198.5" y1="375.5" x2="201.5" y2="375.5" stroke="#231f20" stroke-width="0.8"/>
<text x="195.7" y="377.53" font-size="6.3" text-anchor="end" textLength="6.6" lengthAdjust="spacingAndGlyphs" stroke="#231f20" stroke-width="0.13">40</text>
<line x1="198.5" y1="363.5" x2="201.5" y2="363.5" stroke="#231f20" stroke-width="0.8"/>
<text x="195.7" y="365.45" font-size="6.3" text-anchor="end" textLength="6.6" lengthAdjust="spacingAndGlyphs" stroke="#231f20" stroke-width="0.13">50</text>
<line x1="198.5" y1="351.5" x2="201.5" y2="351.5" stroke="#231f20" stroke-width="0.8"/>
<text x="195.7" y="353.38" font-size="6.3" text-anchor="end" textLength="6.6" lengthAdjust="spacingAndGlyphs" stroke="#231f20" stroke-width="0.13">60</text>
<line x1="198.5" y1="339.5" x2="201.5" y2="339.5" stroke="#231f20" stroke-width="0.8"/>
<text x="195.7" y="341.31" font-size="6.3" text-anchor="end" textLength="6.6" lengthAdjust="spacingAndGlyphs" stroke="#231f20" stroke-width="0.13">70</text>
<line x1="201" y1="423.5" x2="288.4" y2="423.5" stroke="#231f20" stroke-width="1"/>
<line x1="231.5" y1="423.5" x2="231.5" y2="426.1" stroke="#231f20" stroke-width="0.8"/>
<line x1="259.5" y1="423.5" x2="259.5" y2="426.1" stroke="#231f20" stroke-width="0.8"/>
<line x1="288.5" y1="423.5" x2="288.5" y2="426.1" stroke="#231f20" stroke-width="0.8"/>
<rect x="206.3" y="386.79" width="7.7" height="36.81" fill="#cc0a2f"/>
<line x1="210.15" y1="380.75" x2="210.15" y2="392.82" stroke="#231f20" stroke-width="0.7"/>
<line x1="208.95" y1="380.75" x2="211.35" y2="380.75" stroke="#231f20" stroke-width="0.7"/>
<rect x="217.2" y="358.42" width="7.8" height="65.18" fill="#17518d"/>
<line x1="221.1" y1="354.2" x2="221.1" y2="362.65" stroke="#231f20" stroke-width="0.7"/>
<line x1="219.9" y1="354.2" x2="222.3" y2="354.2" stroke="#231f20" stroke-width="0.7"/>
<rect x="234" y="410.93" width="8" height="12.67" fill="#cc0a2f"/>
<line x1="238" y1="408.15" x2="238" y2="413.7" stroke="#231f20" stroke-width="0.7"/>
<line x1="236.8" y1="408.15" x2="239.2" y2="408.15" stroke="#231f20" stroke-width="0.7"/>
<rect x="244.7" y="404.29" width="7.9" height="19.31" fill="#17518d"/>
<line x1="248.65" y1="402.48" x2="248.65" y2="406.1" stroke="#231f20" stroke-width="0.7"/>
<line x1="247.45" y1="402.48" x2="249.85" y2="402.48" stroke="#231f20" stroke-width="0.7"/>
<rect x="262.4" y="378.94" width="7.9" height="44.66" fill="#cc0a2f"/>
<line x1="266.35" y1="373.51" x2="266.35" y2="384.37" stroke="#231f20" stroke-width="0.7"/>
<line x1="265.15" y1="373.51" x2="267.55" y2="373.51" stroke="#231f20" stroke-width="0.7"/>
<rect x="273.2" y="403.68" width="8" height="19.92" fill="#17518d"/>
<line x1="277.2" y1="398.86" x2="277.2" y2="408.51" stroke="#231f20" stroke-width="0.7"/>
<line x1="276" y1="398.86" x2="278.4" y2="398.86" stroke="#231f20" stroke-width="0.7"/>
<path d="M213.53,342.65 L213.53,344.95 M212.53,343.23 L214.52,344.38 M214.52,343.23 L212.53,344.38 M216.47,342.65 L216.47,344.95 M215.48,343.23 L217.47,344.38 M217.47,343.23 L215.48,344.38" stroke="#231f20" stroke-width="0.7" fill="none"/>
<path d="M209.5,349.8 L209.5,348.8 L220.5,348.8 L220.5,349.8" fill="none" stroke="#231f20" stroke-width="0.8"/>
<path d="M243.6,389.85 L243.6,392.15 M242.6,390.43 L244.6,391.57 M244.6,390.43 L242.6,391.57" stroke="#231f20" stroke-width="0.7" fill="none"/>
<path d="M238,398 L238,397 L249.4,397 L249.4,398" fill="none" stroke="#231f20" stroke-width="0.8"/>
<path d="M270.12,363.35 L270.12,365.65 M269.13,363.93 L271.12,365.07 M271.12,363.93 L269.13,365.07 M273.08,363.35 L273.08,365.65 M272.08,363.93 L274.07,365.07 M274.07,363.93 L272.08,365.07" stroke="#231f20" stroke-width="0.7" fill="none"/>
<path d="M265.8,370 L265.8,369 L277.5,369 L277.5,370" fill="none" stroke="#231f20" stroke-width="0.8"/>
<text x="216" y="435.5" font-size="6.8" text-anchor="middle" textLength="15.8" lengthAdjust="spacingAndGlyphs" stroke="#231f20" stroke-width="0.13">B-cell</text>
<text x="243.6" y="435.5" font-size="6.8" text-anchor="middle" textLength="14.7" lengthAdjust="spacingAndGlyphs" stroke="#231f20" stroke-width="0.13">T-cell</text>
<text x="271.4" y="435.5" font-size="6.8" text-anchor="middle" textLength="22.8" lengthAdjust="spacingAndGlyphs" stroke="#231f20" stroke-width="0.13">Myeloid</text>
<text x="245.2" y="447.3" font-size="8.6" text-anchor="middle" textLength="32.5" lengthAdjust="spacingAndGlyphs" stroke="#231f20" stroke-width="0.13">Cell subset</text>
<rect x="214" y="453.35" width="2.7" height="2.7" fill="#cc0a2f"/>
<text x="219.3" y="456.9" font-size="6.3" textLength="19.7" lengthAdjust="spacingAndGlyphs" stroke="#231f20" stroke-width="0.13">Control</text>
<rect x="248.3" y="453.35" width="2.7" height="2.7" fill="#17518d"/>
<text x="254" y="456.9" font-size="6.3" textLength="20.8" lengthAdjust="spacingAndGlyphs" stroke="#231f20" stroke-width="0.13">GW4869</text>
<text x="174.05" y="380.5" font-size="7.9" text-anchor="middle" textLength="56" lengthAdjust="spacingAndGlyphs" transform="rotate(-90 174.05 380.5)" stroke="#231f20" stroke-width="0.13">% peripheral blood</text>
<text x="182.94" y="380.5" font-size="7.9" text-anchor="middle" textLength="51.7" lengthAdjust="spacingAndGlyphs" transform="rotate(-90 182.94 380.5)" stroke="#231f20" stroke-width="0.13">chimerism/donor</text>
<text x="303.3" y="324.3" font-size="10.6" fill="#111" font-weight="bold" textLength="4" lengthAdjust="spacingAndGlyphs">I</text>
<line x1="338.5" y1="349.3" x2="338.5" y2="423.9" stroke="#231f20" stroke-width="1"/>
<line x1="335.5" y1="423.5" x2="338.5" y2="423.5" stroke="#231f20" stroke-width="0.8"/>
<text x="332.4" y="425.6" font-size="6.3" text-anchor="end" textLength="3.3" lengthAdjust="spacingAndGlyphs" stroke="#231f20" stroke-width="0.13">0</text>
<line x1="335.5" y1="411.5" x2="338.5" y2="411.5" stroke="#231f20" stroke-width="0.8"/>
<text x="332.4" y="413.52" font-size="6.3" text-anchor="end" textLength="7.8" lengthAdjust="spacingAndGlyphs" stroke="#231f20" stroke-width="0.13">0.2</text>
<line x1="335.5" y1="399.5" x2="338.5" y2="399.5" stroke="#231f20" stroke-width="0.8"/>
<text x="332.4" y="401.44" font-size="6.3" text-anchor="end" textLength="7.8" lengthAdjust="spacingAndGlyphs" stroke="#231f20" stroke-width="0.13">0.4</text>
<line x1="335.5" y1="387.5" x2="338.5" y2="387.5" stroke="#231f20" stroke-width="0.8"/>
<text x="332.4" y="389.36" font-size="6.3" text-anchor="end" textLength="7.8" lengthAdjust="spacingAndGlyphs" stroke="#231f20" stroke-width="0.13">0.6</text>
<line x1="335.5" y1="375.5" x2="338.5" y2="375.5" stroke="#231f20" stroke-width="0.8"/>
<text x="332.4" y="377.28" font-size="6.3" text-anchor="end" textLength="7.8" lengthAdjust="spacingAndGlyphs" stroke="#231f20" stroke-width="0.13">0.8</text>
<line x1="335.5" y1="363.5" x2="338.5" y2="363.5" stroke="#231f20" stroke-width="0.8"/>
<text x="332.4" y="365.2" font-size="6.3" text-anchor="end" textLength="7.8" lengthAdjust="spacingAndGlyphs" stroke="#231f20" stroke-width="0.13">1.0</text>
<line x1="335.5" y1="350.5" x2="338.5" y2="350.5" stroke="#231f20" stroke-width="0.8"/>
<text x="332.4" y="353.12" font-size="6.3" text-anchor="end" textLength="7.8" lengthAdjust="spacingAndGlyphs" stroke="#231f20" stroke-width="0.13">1.2</text>
<line x1="338" y1="423.5" x2="380.3" y2="423.5" stroke="#231f20" stroke-width="1"/>
<line x1="358.5" y1="423.5" x2="358.5" y2="426.1" stroke="#231f20" stroke-width="0.8"/>
<line x1="377.5" y1="423.5" x2="377.5" y2="426.1" stroke="#231f20" stroke-width="0.8"/>
<rect x="344" y="363" width="9.4" height="60.4" fill="#c7c7c9"/>
<rect x="363" y="415.55" width="9.8" height="7.85" fill="#561f66"/>
<line x1="367.9" y1="411.32" x2="367.9" y2="419.78" stroke="#231f20" stroke-width="0.7"/>
<line x1="366.7" y1="411.32" x2="369.1" y2="411.32" stroke="#231f20" stroke-width="0.7"/>
<path d="M365.05,404.75 L365.05,407.05 M364.05,405.32 L366.05,406.47 M366.05,405.32 L364.05,406.47 M368,404.75 L368,407.05 M367,405.32 L369,406.47 M369,405.32 L367,406.47 M370.95,404.75 L370.95,407.05 M369.95,405.32 L371.95,406.47 M371.95,405.32 L369.95,406.47" stroke="#231f20" stroke-width="0.7" fill="none"/>
<text x="355.3" y="428.8" font-size="7.9" text-anchor="end" textLength="20.5" lengthAdjust="spacingAndGlyphs" transform="rotate(-55 355.3 428.8)" stroke="#231f20" stroke-width="0.13">Rosa26</text>
<text x="375" y="428.8" font-size="7.9" text-anchor="end" textLength="20" lengthAdjust="spacingAndGlyphs" transform="rotate(-55 375 428.8)" stroke="#231f20" stroke-width="0.13">Smpd3</text>
<text x="359.8" y="458.6" font-size="8.6" text-anchor="middle" textLength="39" lengthAdjust="spacingAndGlyphs" stroke="#231f20" stroke-width="0.13">sgRNA target</text>
<text x="310.68" y="385" font-size="7.6" text-anchor="middle" textLength="49.2" lengthAdjust="spacingAndGlyphs" transform="rotate(-90 310.68 385)" stroke="#231f20" stroke-width="0.13">Relative Smpd3</text>
<text x="318.88" y="385.9" font-size="7.6" text-anchor="middle" textLength="51" lengthAdjust="spacingAndGlyphs" transform="rotate(-90 318.88 385.9)" stroke="#231f20" stroke-width="0.13">mRNA expression</text>
<text x="395.5" y="324.8" font-size="10.6" fill="#111" font-weight="bold" textLength="5.9" lengthAdjust="spacingAndGlyphs">J</text>
<text x="418.9" y="340.9" font-size="6.8" text-anchor="middle" textLength="31" lengthAdjust="spacingAndGlyphs">Rosa26-KO</text>
<text x="418.7" y="395.2" font-size="6.8" text-anchor="middle" font-style="italic" textLength="31" lengthAdjust="spacingAndGlyphs">Smpd3-KO</text>
<circle cx="418.3" cy="364.7" r="21.8" fill="#d0d0d0" stroke="#6e6e6e" stroke-width="0.75"/>
<circle cx="418.3" cy="364.7" r="21.3" fill="url(#dishg)"/>
<rect x="410.3" y="342.9" width="2.2" height="43.6" fill="#c4c4c4" opacity="0.4" clip-path="url(#clip364)"/>
<rect x="418.3" y="342.9" width="2.2" height="43.6" fill="#c4c4c4" opacity="0.4" clip-path="url(#clip364)"/>
<rect x="426.3" y="342.9" width="2.2" height="43.6" fill="#c4c4c4" opacity="0.4" clip-path="url(#clip364)"/>
<circle cx="419.57" cy="358.83" r="0.72" fill="#b5b5b5"/>
<circle cx="422.37" cy="373.27" r="0.56" fill="#a8a8a8"/>
<circle cx="433.73" cy="359.08" r="0.42" fill="#b5b5b5"/>
<circle cx="417.13" cy="344.95" r="0.41" fill="#a8a8a8"/>
<circle cx="436.14" cy="368.49" r="0.51" fill="#bdbdbd"/>
<circle cx="424.75" cy="353.15" r="0.74" fill="#a8a8a8"/>
<circle cx="417" cy="347.89" r="0.64" fill="#bdbdbd"/>
<circle cx="404.47" cy="371.38" r="0.62" fill="#a8a8a8"/>
<circle cx="413.13" cy="360.94" r="0.6" fill="#9a9a9a"/>
<circle cx="413.66" cy="382.04" r="0.62" fill="#a8a8a8"/>
<circle cx="426.16" cy="379.9" r="0.54" fill="#b5b5b5"/>
<circle cx="401.57" cy="357.89" r="0.63" fill="#bdbdbd"/>
<circle cx="412.12" cy="351.77" r="0.45" fill="#bdbdbd"/>
<circle cx="412.81" cy="382.26" r="0.71" fill="#9a9a9a"/>
<circle cx="418.83" cy="379.84" r="0.69" fill="#a8a8a8"/>
<circle cx="427.18" cy="358.73" r="0.4" fill="#9a9a9a"/>
<circle cx="427.45" cy="349.16" r="0.62" fill="#a8a8a8"/>
<circle cx="408.33" cy="355.32" r="0.66" fill="#a8a8a8"/>
<circle cx="428.78" cy="377.84" r="0.39" fill="#bdbdbd"/>
<circle cx="413.81" cy="356.25" r="0.42" fill="#b5b5b5"/>
<circle cx="420.58" cy="376.1" r="0.47" fill="#b5b5b5"/>
<circle cx="423.86" cy="382.49" r="0.72" fill="#a8a8a8"/>
<circle cx="423.46" cy="370.94" r="0.74" fill="#b5b5b5"/>
<circle cx="429.91" cy="350.87" r="0.68" fill="#a8a8a8"/>
<circle cx="425.97" cy="352.56" r="0.72" fill="#a8a8a8"/>
<circle cx="408.15" cy="373.92" r="0.67" fill="#b5b5b5"/>
<circle cx="408.55" cy="358.28" r="0.66" fill="#9a9a9a"/>
<circle cx="434.89" cy="374.58" r="0.39" fill="#b5b5b5"/>
<circle cx="410.02" cy="357.8" r="0.47" fill="#b5b5b5"/>
<circle cx="405.6" cy="376.04" r="0.6" fill="#a8a8a8"/>
<circle cx="404.21" cy="376.88" r="0.41" fill="#bdbdbd"/>
<circle cx="399.4" cy="367.65" r="0.69" fill="#b5b5b5"/>
<circle cx="416.13" cy="373.12" r="0.62" fill="#b5b5b5"/>
<circle cx="420.95" cy="371.46" r="0.57" fill="#9a9a9a"/>
<circle cx="409.88" cy="368.76" r="0.71" fill="#9a9a9a"/>
<circle cx="416.15" cy="383.18" r="0.64" fill="#a8a8a8"/>
<circle cx="412.67" cy="358.32" r="0.54" fill="#9a9a9a"/>
<circle cx="413" cy="382.09" r="0.72" fill="#bdbdbd"/>
<circle cx="414.74" cy="381.93" r="0.63" fill="#bdbdbd"/>
<circle cx="405.66" cy="365.73" r="0.73" fill="#b5b5b5"/>
<circle cx="409.5" cy="350.4" r="1.2" fill="#1a1a1a"/>
<circle cx="421.6" cy="353.3" r="0.8" fill="#333"/>
<circle cx="423" cy="359" r="0.8" fill="#2a2a2a"/>
<circle cx="436.7" cy="361.6" r="0.9" fill="#2a2a2a"/>
<circle cx="415.3" cy="359.6" r="0.8" fill="#8a8a8a"/>
<circle cx="403.6" cy="361" r="0.7" fill="#aaa"/>
<circle cx="420.6" cy="368.8" r="0.8" fill="#555"/>
<circle cx="412.9" cy="368.8" r="0.7" fill="#999"/>
<circle cx="404.6" cy="373.2" r="0.8" fill="#777"/>
<circle cx="413.4" cy="374.2" r="0.7" fill="#aaa"/>
<circle cx="430" cy="372" r="0.5" fill="#888"/>
<circle cx="418.3" cy="418.5" r="21.8" fill="#d0d0d0" stroke="#6e6e6e" stroke-width="0.75"/>
<circle cx="418.3" cy="418.5" r="21.3" fill="url(#dishg)"/>
<rect x="410.3" y="396.7" width="2.2" height="43.6" fill="#c4c4c4" opacity="0.4" clip-path="url(#clip418)"/>
<rect x="418.3" y="396.7" width="2.2" height="43.6" fill="#c4c4c4" opacity="0.4" clip-path="url(#clip418)"/>
<rect x="426.3" y="396.7" width="2.2" height="43.6" fill="#c4c4c4" opacity="0.4" clip-path="url(#clip418)"/>
<circle cx="415.37" cy="424.48" r="0.41" fill="#a8a8a8"/>
<circle cx="415.24" cy="437.81" r="0.41" fill="#bdbdbd"/>
<circle cx="424.61" cy="404.65" r="0.47" fill="#bdbdbd"/>
<circle cx="408.68" cy="407.53" r="0.35" fill="#b5b5b5"/>
<circle cx="407.03" cy="411.05" r="0.5" fill="#9a9a9a"/>
<circle cx="416.28" cy="416.45" r="0.41" fill="#b5b5b5"/>
<circle cx="412.92" cy="403.38" r="0.46" fill="#a8a8a8"/>
<circle cx="418.65" cy="425.63" r="0.64" fill="#9a9a9a"/>
<circle cx="412.74" cy="430.47" r="0.43" fill="#a8a8a8"/>
<circle cx="423.83" cy="437.44" r="0.45" fill="#b5b5b5"/>
<circle cx="422.83" cy="427.9" r="0.59" fill="#a8a8a8"/>
<circle cx="430.54" cy="426.92" r="0.39" fill="#bdbdbd"/>
<circle cx="421.09" cy="430.92" r="0.55" fill="#bdbdbd"/>
<circle cx="404.97" cy="432.9" r="0.51" fill="#b5b5b5"/>
<circle cx="405.34" cy="410.5" r="0.44" fill="#bdbdbd"/>
<circle cx="400.71" cy="412.05" r="0.71" fill="#b5b5b5"/>
<circle cx="402.54" cy="427.54" r="0.67" fill="#bdbdbd"/>
<circle cx="417.66" cy="417.69" r="0.67" fill="#bdbdbd"/>
<circle cx="414.42" cy="418.42" r="0.51" fill="#a8a8a8"/>
<circle cx="415.09" cy="407.69" r="0.67" fill="#9a9a9a"/>
<circle cx="406.55" cy="422.15" r="0.69" fill="#b5b5b5"/>
<circle cx="413.13" cy="427.8" r="0.4" fill="#9a9a9a"/>
<circle cx="419.99" cy="416.27" r="0.44" fill="#bdbdbd"/>
<circle cx="423.46" cy="419.05" r="0.54" fill="#9a9a9a"/>
<circle cx="434.51" cy="411.59" r="0.53" fill="#b5b5b5"/>
<circle cx="430.14" cy="412.98" r="0.38" fill="#b5b5b5"/>
<circle cx="419.77" cy="405.59" r="0.45" fill="#bdbdbd"/>
<circle cx="427.02" cy="421.21" r="0.57" fill="#bdbdbd"/>
<circle cx="416.77" cy="416.07" r="0.56" fill="#a8a8a8"/>
<circle cx="415.98" cy="408.92" r="0.6" fill="#a8a8a8"/>
<circle cx="405.35" cy="431.34" r="0.75" fill="#a8a8a8"/>
<circle cx="418.15" cy="412.28" r="0.63" fill="#b5b5b5"/>
<circle cx="436.39" cy="426.49" r="0.54" fill="#a8a8a8"/>
<circle cx="436.14" cy="413.16" r="0.63" fill="#bdbdbd"/>
<circle cx="401.35" cy="412.96" r="0.47" fill="#bdbdbd"/>
<circle cx="425.74" cy="419.03" r="0.46" fill="#b5b5b5"/>
<circle cx="424.43" cy="418.46" r="0.41" fill="#9a9a9a"/>
<circle cx="416.07" cy="430.1" r="0.71" fill="#9a9a9a"/>
<circle cx="431.63" cy="426.71" r="0.73" fill="#bdbdbd"/>
<circle cx="423.31" cy="403.53" r="0.5" fill="#a8a8a8"/>
<circle cx="411.9" cy="403.9" r="0.9" fill="#333"/>
<circle cx="418.2" cy="402.3" r="0.8" fill="#666"/>
<circle cx="425" cy="403" r="0.9" fill="#222"/>
<circle cx="425.5" cy="407.1" r="0.7" fill="#555"/>
<circle cx="406.4" cy="407.5" r="0.6" fill="#555"/>
<circle cx="428.7" cy="417.8" r="0.9" fill="#222"/>
<circle cx="409.5" cy="421.7" r="0.8" fill="#333"/>
<circle cx="436.9" cy="416.8" r="0.7" fill="#999"/>
<circle cx="433.7" cy="423.8" r="0.9" fill="#777"/>
<circle cx="418.4" cy="432.8" r="1.1" fill="#111"/>
<circle cx="428.9" cy="430.6" r="0.8" fill="#444"/>
<circle cx="430.8" cy="433" r="0.7" fill="#444"/>
<circle cx="422.6" cy="436.5" r="0.7" fill="#444"/>
<circle cx="406.6" cy="431.6" r="0.7" fill="#999"/>
<circle cx="420.2" cy="423.8" r="0.7" fill="#aaa"/>
<circle cx="414" cy="426" r="0.5" fill="#666"/>
<circle cx="400.5" cy="420" r="0.5" fill="#666"/>
<circle cx="432" cy="410" r="0.5" fill="#777"/>
<line x1="468.5" y1="349.4" x2="468.5" y2="423.7" stroke="#231f20" stroke-width="1"/>
<line x1="465.5" y1="423.5" x2="468.5" y2="423.5" stroke="#231f20" stroke-width="0.8"/>
<text x="463.2" y="425.4" font-size="6.3" text-anchor="end" textLength="3.3" lengthAdjust="spacingAndGlyphs" stroke="#231f20" stroke-width="0.13">0</text>
<line x1="465.5" y1="415.5" x2="468.5" y2="415.5" stroke="#231f20" stroke-width="0.8"/>
<text x="463.2" y="417.57" font-size="6.3" text-anchor="end" textLength="6.6" lengthAdjust="spacingAndGlyphs" stroke="#231f20" stroke-width="0.13">10</text>
<line x1="465.5" y1="407.5" x2="468.5" y2="407.5" stroke="#231f20" stroke-width="0.8"/>
<text x="463.2" y="409.74" font-size="6.3" text-anchor="end" textLength="6.6" lengthAdjust="spacingAndGlyphs" stroke="#231f20" stroke-width="0.13">20</text>
<line x1="465.5" y1="399.5" x2="468.5" y2="399.5" stroke="#231f20" stroke-width="0.8"/>
<text x="463.2" y="401.91" font-size="6.3" text-anchor="end" textLength="6.6" lengthAdjust="spacingAndGlyphs" stroke="#231f20" stroke-width="0.13">30</text>
<line x1="465.5" y1="391.5" x2="468.5" y2="391.5" stroke="#231f20" stroke-width="0.8"/>
<text x="463.2" y="394.08" font-size="6.3" text-anchor="end" textLength="6.6" lengthAdjust="spacingAndGlyphs" stroke="#231f20" stroke-width="0.13">40</text>
<line x1="465.5" y1="384.5" x2="468.5" y2="384.5" stroke="#231f20" stroke-width="0.8"/>
<text x="463.2" y="386.25" font-size="6.3" text-anchor="end" textLength="6.6" lengthAdjust="spacingAndGlyphs" stroke="#231f20" stroke-width="0.13">50</text>
<line x1="465.5" y1="376.5" x2="468.5" y2="376.5" stroke="#231f20" stroke-width="0.8"/>
<text x="463.2" y="378.42" font-size="6.3" text-anchor="end" textLength="6.6" lengthAdjust="spacingAndGlyphs" stroke="#231f20" stroke-width="0.13">60</text>
<line x1="465.5" y1="368.5" x2="468.5" y2="368.5" stroke="#231f20" stroke-width="0.8"/>
<text x="463.2" y="370.59" font-size="6.3" text-anchor="end" textLength="6.6" lengthAdjust="spacingAndGlyphs" stroke="#231f20" stroke-width="0.13">70</text>
<line x1="465.5" y1="360.5" x2="468.5" y2="360.5" stroke="#231f20" stroke-width="0.8"/>
<text x="463.2" y="362.76" font-size="6.3" text-anchor="end" textLength="6.6" lengthAdjust="spacingAndGlyphs" stroke="#231f20" stroke-width="0.13">80</text>
<line x1="465.5" y1="352.5" x2="468.5" y2="352.5" stroke="#231f20" stroke-width="0.8"/>
<text x="463.2" y="354.94" font-size="6.3" text-anchor="end" textLength="6.6" lengthAdjust="spacingAndGlyphs" stroke="#231f20" stroke-width="0.13">90</text>
<line x1="468" y1="423.5" x2="509.8" y2="423.5" stroke="#231f20" stroke-width="1"/>
<line x1="488.5" y1="423.5" x2="488.5" y2="426.1" stroke="#231f20" stroke-width="0.8"/>
<line x1="508.5" y1="423.5" x2="508.5" y2="426.1" stroke="#231f20" stroke-width="0.8"/>
<rect x="472.9" y="388.75" width="10.8" height="34.45" fill="#c7c7c9"/>
<line x1="478.3" y1="387.57" x2="478.3" y2="389.92" stroke="#231f20" stroke-width="0.7"/>
<line x1="477.1" y1="387.57" x2="479.5" y2="387.57" stroke="#231f20" stroke-width="0.7"/>
<rect x="493" y="360.56" width="10.9" height="62.64" fill="#561f66"/>
<line x1="498.45" y1="358.99" x2="498.45" y2="362.13" stroke="#231f20" stroke-width="0.7"/>
<line x1="497.25" y1="358.99" x2="499.65" y2="358.99" stroke="#231f20" stroke-width="0.7"/>
<path d="M495.55,352.45 L495.55,354.75 M494.55,353.03 L496.55,354.18 M496.55,353.03 L494.55,354.18 M498.5,352.45 L498.5,354.75 M497.5,353.03 L499.5,354.18 M499.5,353.03 L497.5,354.18 M501.45,352.45 L501.45,354.75 M500.45,353.03 L502.45,354.18 M502.45,353.03 L500.45,354.18" stroke="#231f20" stroke-width="0.7" fill="none"/>
<text x="486.3" y="433.6" font-size="7.9" text-anchor="end" textLength="18.5" lengthAdjust="spacingAndGlyphs" transform="rotate(-45 486.3 433.6)" stroke="#231f20" stroke-width="0.13">Rosa26</text>
<text x="504.6" y="433.4" font-size="7.9" text-anchor="end" textLength="18.5" lengthAdjust="spacingAndGlyphs" transform="rotate(-45 504.6 433.4)" stroke="#231f20" stroke-width="0.13">Smpd3</text>
<text x="449.66" y="384.7" font-size="8.3" text-anchor="middle" textLength="66" lengthAdjust="spacingAndGlyphs" transform="rotate(-90 449.66 384.7)" stroke="#231f20" stroke-width="0.13">Total colonies per well</text>
<text x="5.7" y="486.3" font-size="10.6" fill="#111" font-weight="bold" textLength="9.4" lengthAdjust="spacingAndGlyphs">K</text>
<line x1="45.5" y1="496.7" x2="45.5" y2="577.5" stroke="#231f20" stroke-width="1"/>
<line x1="42.5" y1="577.5" x2="45.5" y2="577.5" stroke="#231f20" stroke-width="0.8"/>
<text x="40.2" y="579.21" font-size="6.3" text-anchor="end" textLength="3.3" lengthAdjust="spacingAndGlyphs" stroke="#231f20" stroke-width="0.13">0</text>
<line x1="42.5" y1="565.5" x2="45.5" y2="565.5" stroke="#231f20" stroke-width="0.8"/>
<text x="40.2" y="567.92" font-size="6.3" text-anchor="end" textLength="6.6" lengthAdjust="spacingAndGlyphs" stroke="#231f20" stroke-width="0.13">10</text>
<line x1="42.5" y1="554.5" x2="45.5" y2="554.5" stroke="#231f20" stroke-width="0.8"/>
<text x="40.2" y="556.62" font-size="6.3" text-anchor="end" textLength="6.6" lengthAdjust="spacingAndGlyphs" stroke="#231f20" stroke-width="0.13">20</text>
<line x1="42.5" y1="543.5" x2="45.5" y2="543.5" stroke="#231f20" stroke-width="0.8"/>
<text x="40.2" y="545.34" font-size="6.3" text-anchor="end" textLength="6.6" lengthAdjust="spacingAndGlyphs" stroke="#231f20" stroke-width="0.13">30</text>
<line x1="42.5" y1="531.5" x2="45.5" y2="531.5" stroke="#231f20" stroke-width="0.8"/>
<text x="40.2" y="534.05" font-size="6.3" text-anchor="end" textLength="6.6" lengthAdjust="spacingAndGlyphs" stroke="#231f20" stroke-width="0.13">40</text>
<line x1="42.5" y1="520.5" x2="45.5" y2="520.5" stroke="#231f20" stroke-width="0.8"/>
<text x="40.2" y="522.75" font-size="6.3" text-anchor="end" textLength="6.6" lengthAdjust="spacingAndGlyphs" stroke="#231f20" stroke-width="0.13">50</text>
<line x1="42.5" y1="509.5" x2="45.5" y2="509.5" stroke="#231f20" stroke-width="0.8"/>
<text x="40.2" y="511.46" font-size="6.3" text-anchor="end" textLength="6.6" lengthAdjust="spacingAndGlyphs" stroke="#231f20" stroke-width="0.13">60</text>
<line x1="42.5" y1="497.5" x2="45.5" y2="497.5" stroke="#231f20" stroke-width="0.8"/>
<text x="40.2" y="500.18" font-size="6.3" text-anchor="end" textLength="6.6" lengthAdjust="spacingAndGlyphs" stroke="#231f20" stroke-width="0.13">70</text>
<line x1="45" y1="577.5" x2="128.8" y2="577.5" stroke="#231f20" stroke-width="1"/>
<line x1="45.5" y1="577.5" x2="45.5" y2="580.1" stroke="#231f20" stroke-width="0.8"/>
<line x1="56.5" y1="577.5" x2="56.5" y2="580.1" stroke="#231f20" stroke-width="0.8"/>
<line x1="67.5" y1="577.5" x2="67.5" y2="580.1" stroke="#231f20" stroke-width="0.8"/>
<line x1="78.5" y1="577.5" x2="78.5" y2="580.1" stroke="#231f20" stroke-width="0.8"/>
<line x1="89.5" y1="577.5" x2="89.5" y2="580.1" stroke="#231f20" stroke-width="0.8"/>
<line x1="99.5" y1="577.5" x2="99.5" y2="580.1" stroke="#231f20" stroke-width="0.8"/>
<line x1="110.5" y1="577.5" x2="110.5" y2="580.1" stroke="#231f20" stroke-width="0.8"/>
<line x1="121.5" y1="577.5" x2="121.5" y2="580.1" stroke="#231f20" stroke-width="0.8"/>
<text x="45.8" y="587.8" font-size="6.5" text-anchor="middle" stroke="#231f20" stroke-width="0.13">0</text>
<text x="56.6" y="587.8" font-size="6.5" text-anchor="middle" stroke="#231f20" stroke-width="0.13">4</text>
<text x="67.4" y="587.8" font-size="6.5" text-anchor="middle" stroke="#231f20" stroke-width="0.13">8</text>
<text x="78.2" y="587.8" font-size="6.5" text-anchor="middle" stroke="#231f20" stroke-width="0.13">12</text>
<text x="89" y="587.8" font-size="6.5" text-anchor="middle" stroke="#231f20" stroke-width="0.13">16</text>
<text x="99.8" y="587.8" font-size="6.5" text-anchor="middle" stroke="#231f20" stroke-width="0.13">20</text>
<text x="110.6" y="587.8" font-size="6.5" text-anchor="middle" stroke="#231f20" stroke-width="0.13">24</text>
<text x="121.4" y="587.8" font-size="6.5" text-anchor="middle" stroke="#231f20" stroke-width="0.13">28</text>
<text x="87.3" y="600" font-size="8.6" text-anchor="middle" textLength="80.5" lengthAdjust="spacingAndGlyphs" stroke="#231f20" stroke-width="0.13">Weeks post-transplantation</text>
<text x="24.16" y="536" font-size="8.3" text-anchor="middle" textLength="88" lengthAdjust="spacingAndGlyphs" transform="rotate(-90 24.16 536)" stroke="#231f20" stroke-width="0.13">% peripheral blood chimerism</text>
<polyline points="56.6,541.44 67.4,540.31 78.2,539.18 89,534.1 99.8,531.84 110.6,534.1 121.4,534.66" fill="none" stroke="#c9c9cb" stroke-width="1.3"/>
<line x1="56.6" y1="535.23" x2="56.6" y2="547.65" stroke="#333" stroke-width="0.65"/>
<line x1="55.5" y1="535.23" x2="57.7" y2="535.23" stroke="#333" stroke-width="0.65"/>
<line x1="55.5" y1="547.65" x2="57.7" y2="547.65" stroke="#333" stroke-width="0.65"/>
<circle cx="56.6" cy="541.44" r="1.45" fill="#fff" stroke="#333" stroke-width="0.65"/>
<line x1="67.4" y1="535.23" x2="67.4" y2="545.39" stroke="#333" stroke-width="0.65"/>
<line x1="66.3" y1="535.23" x2="68.5" y2="535.23" stroke="#333" stroke-width="0.65"/>
<line x1="66.3" y1="545.39" x2="68.5" y2="545.39" stroke="#333" stroke-width="0.65"/>
<circle cx="67.4" cy="540.31" r="1.45" fill="#fff" stroke="#333" stroke-width="0.65"/>
<line x1="78.2" y1="534.66" x2="78.2" y2="543.69" stroke="#333" stroke-width="0.65"/>
<line x1="77.1" y1="534.66" x2="79.3" y2="534.66" stroke="#333" stroke-width="0.65"/>
<line x1="77.1" y1="543.69" x2="79.3" y2="543.69" stroke="#333" stroke-width="0.65"/>
<circle cx="78.2" cy="539.18" r="1.45" fill="#fff" stroke="#333" stroke-width="0.65"/>
<line x1="89" y1="530.71" x2="89" y2="537.49" stroke="#333" stroke-width="0.65"/>
<line x1="87.9" y1="530.71" x2="90.1" y2="530.71" stroke="#333" stroke-width="0.65"/>
<line x1="87.9" y1="537.49" x2="90.1" y2="537.49" stroke="#333" stroke-width="0.65"/>
<circle cx="89" cy="534.1" r="1.45" fill="#fff" stroke="#333" stroke-width="0.65"/>
<line x1="99.8" y1="529.02" x2="99.8" y2="534.66" stroke="#333" stroke-width="0.65"/>
<line x1="98.7" y1="529.02" x2="100.9" y2="529.02" stroke="#333" stroke-width="0.65"/>
<line x1="98.7" y1="534.66" x2="100.9" y2="534.66" stroke="#333" stroke-width="0.65"/>
<circle cx="99.8" cy="531.84" r="1.45" fill="#fff" stroke="#333" stroke-width="0.65"/>
<line x1="110.6" y1="530.15" x2="110.6" y2="538.05" stroke="#333" stroke-width="0.65"/>
<line x1="109.5" y1="530.15" x2="111.7" y2="530.15" stroke="#333" stroke-width="0.65"/>
<line x1="109.5" y1="538.05" x2="111.7" y2="538.05" stroke="#333" stroke-width="0.65"/>
<circle cx="110.6" cy="534.1" r="1.45" fill="#fff" stroke="#333" stroke-width="0.65"/>
<line x1="121.4" y1="530.71" x2="121.4" y2="538.61" stroke="#333" stroke-width="0.65"/>
<line x1="120.3" y1="530.71" x2="122.5" y2="530.71" stroke="#333" stroke-width="0.65"/>
<line x1="120.3" y1="538.61" x2="122.5" y2="538.61" stroke="#333" stroke-width="0.65"/>
<circle cx="121.4" cy="534.66" r="1.45" fill="#fff" stroke="#333" stroke-width="0.65"/>
<polyline points="56.6,522.81 67.4,514.9 78.2,514.9 89,514.9 99.8,515.47 110.6,512.65 121.4,512.65" fill="none" stroke="#5f3577" stroke-width="1.9"/>
<line x1="56.6" y1="521.45" x2="56.6" y2="524.16" stroke="#222" stroke-width="0.65"/>
<line x1="55.5" y1="521.45" x2="57.7" y2="521.45" stroke="#222" stroke-width="0.65"/>
<line x1="55.5" y1="524.16" x2="57.7" y2="524.16" stroke="#222" stroke-width="0.65"/>
<circle cx="56.6" cy="522.81" r="1.5" fill="#1e1420"/>
<line x1="67.4" y1="512.08" x2="67.4" y2="517.73" stroke="#222" stroke-width="0.65"/>
<line x1="66.3" y1="512.08" x2="68.5" y2="512.08" stroke="#222" stroke-width="0.65"/>
<line x1="66.3" y1="517.73" x2="68.5" y2="517.73" stroke="#222" stroke-width="0.65"/>
<circle cx="67.4" cy="514.9" r="1.5" fill="#1e1420"/>
<line x1="78.2" y1="512.08" x2="78.2" y2="517.73" stroke="#222" stroke-width="0.65"/>
<line x1="77.1" y1="512.08" x2="79.3" y2="512.08" stroke="#222" stroke-width="0.65"/>
<line x1="77.1" y1="517.73" x2="79.3" y2="517.73" stroke="#222" stroke-width="0.65"/>
<circle cx="78.2" cy="514.9" r="1.5" fill="#1e1420"/>
<line x1="89" y1="512.08" x2="89" y2="517.73" stroke="#222" stroke-width="0.65"/>
<line x1="87.9" y1="512.08" x2="90.1" y2="512.08" stroke="#222" stroke-width="0.65"/>
<line x1="87.9" y1="517.73" x2="90.1" y2="517.73" stroke="#222" stroke-width="0.65"/>
<circle cx="89" cy="514.9" r="1.5" fill="#1e1420"/>
<line x1="99.8" y1="512.99" x2="99.8" y2="517.95" stroke="#222" stroke-width="0.65"/>
<line x1="98.7" y1="512.99" x2="100.9" y2="512.99" stroke="#222" stroke-width="0.65"/>
<line x1="98.7" y1="517.95" x2="100.9" y2="517.95" stroke="#222" stroke-width="0.65"/>
<circle cx="99.8" cy="515.47" r="1.5" fill="#1e1420"/>
<line x1="110.6" y1="509.26" x2="110.6" y2="516.03" stroke="#222" stroke-width="0.65"/>
<line x1="109.5" y1="509.26" x2="111.7" y2="509.26" stroke="#222" stroke-width="0.65"/>
<line x1="109.5" y1="516.03" x2="111.7" y2="516.03" stroke="#222" stroke-width="0.65"/>
<circle cx="110.6" cy="512.65" r="1.5" fill="#1e1420"/>
<line x1="121.4" y1="509.26" x2="121.4" y2="516.03" stroke="#222" stroke-width="0.65"/>
<line x1="120.3" y1="509.26" x2="122.5" y2="509.26" stroke="#222" stroke-width="0.65"/>
<line x1="120.3" y1="516.03" x2="122.5" y2="516.03" stroke="#222" stroke-width="0.65"/>
<circle cx="121.4" cy="512.65" r="1.5" fill="#1e1420"/>
<path d="M56.6,514.65 L56.6,516.95 M55.6,515.22 L57.6,516.38 M57.6,515.22 L55.6,516.38" stroke="#231f20" stroke-width="0.7" fill="none"/>
<path d="M65.93,505.85 L65.93,508.15 M64.93,506.43 L66.92,507.57 M66.92,506.43 L64.93,507.57 M68.88,505.85 L68.88,508.15 M67.88,506.43 L69.87,507.57 M69.87,506.43 L67.88,507.57" stroke="#231f20" stroke-width="0.7" fill="none"/>
<path d="M76.73,505.85 L76.73,508.15 M75.73,506.43 L77.72,507.57 M77.72,506.43 L75.73,507.57 M79.67,505.85 L79.67,508.15 M78.68,506.43 L80.67,507.57 M80.67,506.43 L78.68,507.57" stroke="#231f20" stroke-width="0.7" fill="none"/>
<path d="M87.53,505.85 L87.53,508.15 M86.53,506.43 L88.52,507.57 M88.52,506.43 L86.53,507.57 M90.47,505.85 L90.47,508.15 M89.48,506.43 L91.47,507.57 M91.47,506.43 L89.48,507.57" stroke="#231f20" stroke-width="0.7" fill="none"/>
<path d="M98.33,506.85 L98.33,509.15 M97.33,507.43 L99.32,508.57 M99.32,507.43 L97.33,508.57 M101.27,506.85 L101.27,509.15 M100.28,507.43 L102.27,508.57 M102.27,507.43 L100.28,508.57" stroke="#231f20" stroke-width="0.7" fill="none"/>
<path d="M110.6,502.65 L110.6,504.95 M109.6,503.23 L111.6,504.38 M111.6,503.23 L109.6,504.38" stroke="#231f20" stroke-width="0.7" fill="none"/>
<path d="M119.93,502.65 L119.93,504.95 M118.93,503.23 L120.92,504.38 M120.92,503.23 L118.93,504.38 M122.88,502.65 L122.88,504.95 M121.88,503.23 L123.87,504.38 M123.87,503.23 L121.88,504.38" stroke="#231f20" stroke-width="0.7" fill="none"/>
<circle cx="49.5" cy="608.2" r="1.05" fill="#fff" stroke="#444" stroke-width="0.55"/>
<text x="53.8" y="610.4" font-size="6.3" font-style="italic" textLength="28.7" lengthAdjust="spacingAndGlyphs" stroke="#231f20" stroke-width="0.13">Rosa26-KO</text>
<circle cx="93.8" cy="608.2" r="1.1" fill="#1e1420"/>
<text x="97.5" y="610.4" font-size="6.3" font-style="italic" textLength="28.7" lengthAdjust="spacingAndGlyphs" stroke="#231f20" stroke-width="0.13">Smpd3-KO</text>
<text x="139" y="486.3" font-size="10.6" fill="#111" font-weight="bold" textLength="5.9" lengthAdjust="spacingAndGlyphs">L</text>
<text x="166.3" y="514.1" font-size="7.3" fill="#2a2627" textLength="26.2" lengthAdjust="spacingAndGlyphs">HLA-B*08</text>
<text x="139.5" y="522.1" font-size="7.3" fill="#2a2627" textLength="28" lengthAdjust="spacingAndGlyphs">HLA-A*02</text>
<circle cx="177.8" cy="520.6" r="3.1" fill="#6fb2cc" stroke="#5aa3c0" stroke-width="0.5"/>
<circle cx="182.8" cy="522.6" r="3.1" fill="#6fb2cc" stroke="#5aa3c0" stroke-width="0.5"/>
<circle cx="179.5" cy="523.5" r="3.1" fill="#6fb2cc" stroke="#5aa3c0" stroke-width="0.5"/>
<circle cx="152.2" cy="527.8" r="3.1" fill="#f7c79b" stroke="#efb485" stroke-width="0.5"/>
<circle cx="157.2" cy="530.2" r="3.1" fill="#f7c79b" stroke="#efb485" stroke-width="0.5"/>
<circle cx="153.8" cy="531" r="3.1" fill="#f7c79b" stroke="#efb485" stroke-width="0.5"/>
<path d="M175.5,534 C177,539 182,542.5 190.5,543.6" fill="none" stroke="#1a1a1a" stroke-width="0.7" marker-end="url(#ah)"/>
<text x="162.5" y="548.8" font-size="7" fill="#2a2627" font-style="italic" textLength="17.5" lengthAdjust="spacingAndGlyphs">Ex vivo</text>
<text x="162.5" y="556.6" font-size="7" fill="#2a2627" textLength="18.8" lengthAdjust="spacingAndGlyphs">culture</text>
<text x="197" y="523.3" font-size="7.3" fill="#2a2627" textLength="19.2" lengthAdjust="spacingAndGlyphs">DMSO</text>
<text x="218.8" y="523.3" font-size="7.3" fill="#2a2627" textLength="25" lengthAdjust="spacingAndGlyphs">GW4869</text>
<g transform="translate(198.8 525.6) scale(1.06 1.01)"><circle cx="4.2" cy="3.5" r="3.15" fill="#f8caa0" stroke="#f0b483" stroke-width="0.55"/><circle cx="9.3" cy="3.2" r="3.15" fill="#f8caa0" stroke="#f0b483" stroke-width="0.55"/><circle cx="3.3" cy="8.3" r="3.15" fill="#f8caa0" stroke="#f0b483" stroke-width="0.55"/><circle cx="8.6" cy="7.9" r="3.15" fill="#f8caa0" stroke="#f0b483" stroke-width="0.55"/><circle cx="13.3" cy="6.6" r="3.15" fill="#f8caa0" stroke="#f0b483" stroke-width="0.55"/><circle cx="6.2" cy="10.3" r="3.15" fill="#f8caa0" stroke="#f0b483" stroke-width="0.55"/><circle cx="11" cy="10.5" r="3.15" fill="#f8caa0" stroke="#f0b483" stroke-width="0.55"/></g>
<g transform="translate(221.3 525.2) scale(1.1 1.02)"><circle cx="4.2" cy="3.5" r="3.15" fill="#7bb9d1" stroke="#5ca4c0" stroke-width="0.55"/><circle cx="9.3" cy="3.2" r="3.15" fill="#7bb9d1" stroke="#5ca4c0" stroke-width="0.55"/><circle cx="3.3" cy="8.3" r="3.15" fill="#7bb9d1" stroke="#5ca4c0" stroke-width="0.55"/><circle cx="8.6" cy="7.9" r="3.15" fill="#7bb9d1" stroke="#5ca4c0" stroke-width="0.55"/><circle cx="13.3" cy="6.6" r="3.15" fill="#7bb9d1" stroke="#5ca4c0" stroke-width="0.55"/><circle cx="6.2" cy="10.3" r="3.15" fill="#7bb9d1" stroke="#5ca4c0" stroke-width="0.55"/><circle cx="11" cy="10.5" r="3.15" fill="#7bb9d1" stroke="#5ca4c0" stroke-width="0.55"/></g>
<g transform="translate(198.8 547.5) scale(1.06 1.01)"><circle cx="4.2" cy="3.5" r="3.15" fill="#7bb9d1" stroke="#5ca4c0" stroke-width="0.55"/><circle cx="9.3" cy="3.2" r="3.15" fill="#7bb9d1" stroke="#5ca4c0" stroke-width="0.55"/><circle cx="3.3" cy="8.3" r="3.15" fill="#7bb9d1" stroke="#5ca4c0" stroke-width="0.55"/><circle cx="8.6" cy="7.9" r="3.15" fill="#7bb9d1" stroke="#5ca4c0" stroke-width="0.55"/><circle cx="13.3" cy="6.6" r="3.15" fill="#7bb9d1" stroke="#5ca4c0" stroke-width="0.55"/><circle cx="6.2" cy="10.3" r="3.15" fill="#7bb9d1" stroke="#5ca4c0" stroke-width="0.55"/><circle cx="11" cy="10.5" r="3.15" fill="#7bb9d1" stroke="#5ca4c0" stroke-width="0.55"/></g>
<g transform="translate(221.3 547.5) scale(1.1 1.01)"><circle cx="4.2" cy="3.5" r="3.15" fill="#f8caa0" stroke="#f0b483" stroke-width="0.55"/><circle cx="9.3" cy="3.2" r="3.15" fill="#f8caa0" stroke="#f0b483" stroke-width="0.55"/><circle cx="3.3" cy="8.3" r="3.15" fill="#f8caa0" stroke="#f0b483" stroke-width="0.55"/><circle cx="8.6" cy="7.9" r="3.15" fill="#f8caa0" stroke="#f0b483" stroke-width="0.55"/><circle cx="13.3" cy="6.6" r="3.15" fill="#f8caa0" stroke="#f0b483" stroke-width="0.55"/><circle cx="6.2" cy="10.3" r="3.15" fill="#f8caa0" stroke="#f0b483" stroke-width="0.55"/><circle cx="11" cy="10.5" r="3.15" fill="#f8caa0" stroke="#f0b483" stroke-width="0.55"/></g>
<path d="M246.6,524.4 L251.2,524.4 L251.2,539 L246.6,539" fill="none" stroke="#2a2a2a" stroke-width="0.7"/>
<path d="M246.6,547.1 L251.2,547.1 L251.2,561.5 L246.6,561.5" fill="none" stroke="#2a2a2a" stroke-width="0.7"/>
<text x="244.8" y="545.4" font-size="6.9" text-anchor="middle" fill="#2a2627">or</text>
<text x="260.3" y="539.7" font-size="6.9" text-anchor="middle" fill="#2a2627" textLength="7.9" lengthAdjust="spacingAndGlyphs">1:1</text>
<path d="M253.3,542.6 L269.5,542.6" fill="none" stroke="#1a1a1a" stroke-width="0.7" marker-end="url(#ah)"/>
<g transform="translate(273 535.6) scale(1.18)"><path d="M23.3,4.4 C28.3,4.9 30.6,7.3 28.7,9 C26.7,10.3 20,10 13.5,9.7" fill="none" stroke="#d4a59c" stroke-width="0.85" stroke-linecap="round"/><path d="M5.1,3.8 L5.3,7 M15,5.6 L16,8.6" stroke="#d8cfcf" stroke-width="1.1" stroke-linecap="round"/><path d="M4.3,7.2 L6.2,7.2 M15.2,8.9 L17.2,8.9" stroke="#d4a59c" stroke-width="0.7" stroke-linecap="round"/><path d="M0,0 C1.2,-1.3 3,-2.5 5.5,-3 C8.5,-3.5 12,-3.1 15,-3 C19,-2.8 22.8,-0.6 24.2,2.5 C24.8,4.4 23.6,5.8 21.5,6.2 C17,6.6 12,6.4 9,6 C6.5,5.7 4.5,4.3 3,2.9 C1.8,1.9 0.4,0.9 0,0 Z" fill="#f7f5f5" stroke="#b5adad" stroke-width="0.5"/><ellipse cx="7.4" cy="-3.1" rx="1.25" ry="1.4" fill="#f4d6d6" stroke="#b5adad" stroke-width="0.4"/><circle cx="7.6" cy="-2.8" r="0.6" fill="#e7b3b3"/><circle cx="3.6" cy="-0.9" r="0.45" fill="#c33"/><circle cx="0.1" cy="0.3" r="0.45" fill="#c89a8e"/></g>
<text x="267.7" y="554.2" font-size="7.1" fill="#2a2627" textLength="20.5" lengthAdjust="spacingAndGlyphs">NBSGW</text>
<text x="289.5" y="554.2" font-size="7.1" fill="#2a2627" textLength="15.5" lengthAdjust="spacingAndGlyphs">mice</text>
<text x="315.7" y="486.3" font-size="10.6" fill="#111" font-weight="bold" textLength="10.8" lengthAdjust="spacingAndGlyphs">M</text>
<line x1="349.5" y1="489.2" x2="349.5" y2="577.5" stroke="#231f20" stroke-width="1"/>
<line x1="346.5" y1="577.5" x2="349.5" y2="577.5" stroke="#231f20" stroke-width="0.8"/>
<text x="343.7" y="579.21" font-size="6.3" text-anchor="end" textLength="3.3" lengthAdjust="spacingAndGlyphs" stroke="#231f20" stroke-width="0.13">0</text>
<line x1="346.5" y1="566.5" x2="349.5" y2="566.5" stroke="#231f20" stroke-width="0.8"/>
<text x="343.7" y="568.49" font-size="6.3" text-anchor="end" textLength="6.6" lengthAdjust="spacingAndGlyphs" stroke="#231f20" stroke-width="0.13">10</text>
<line x1="346.5" y1="555.5" x2="349.5" y2="555.5" stroke="#231f20" stroke-width="0.8"/>
<text x="343.7" y="557.76" font-size="6.3" text-anchor="end" textLength="6.6" lengthAdjust="spacingAndGlyphs" stroke="#231f20" stroke-width="0.13">20</text>
<line x1="346.5" y1="544.5" x2="349.5" y2="544.5" stroke="#231f20" stroke-width="0.8"/>
<text x="343.7" y="547.05" font-size="6.3" text-anchor="end" textLength="6.6" lengthAdjust="spacingAndGlyphs" stroke="#231f20" stroke-width="0.13">30</text>
<line x1="346.5" y1="534.5" x2="349.5" y2="534.5" stroke="#231f20" stroke-width="0.8"/>
<text x="343.7" y="536.33" font-size="6.3" text-anchor="end" textLength="6.6" lengthAdjust="spacingAndGlyphs" stroke="#231f20" stroke-width="0.13">40</text>
<line x1="346.5" y1="523.5" x2="349.5" y2="523.5" stroke="#231f20" stroke-width="0.8"/>
<text x="343.7" y="525.61" font-size="6.3" text-anchor="end" textLength="6.6" lengthAdjust="spacingAndGlyphs" stroke="#231f20" stroke-width="0.13">50</text>
<line x1="346.5" y1="512.5" x2="349.5" y2="512.5" stroke="#231f20" stroke-width="0.8"/>
<text x="343.7" y="514.88" font-size="6.3" text-anchor="end" textLength="6.6" lengthAdjust="spacingAndGlyphs" stroke="#231f20" stroke-width="0.13">60</text>
<line x1="346.5" y1="501.5" x2="349.5" y2="501.5" stroke="#231f20" stroke-width="0.8"/>
<text x="343.7" y="504.16" font-size="6.3" text-anchor="end" textLength="6.6" lengthAdjust="spacingAndGlyphs" stroke="#231f20" stroke-width="0.13">70</text>
<line x1="346.5" y1="491.5" x2="349.5" y2="491.5" stroke="#231f20" stroke-width="0.8"/>
<text x="343.7" y="493.44" font-size="6.3" text-anchor="end" textLength="6.6" lengthAdjust="spacingAndGlyphs" stroke="#231f20" stroke-width="0.13">80</text>
<line x1="349" y1="577.5" x2="432.5" y2="577.5" stroke="#231f20" stroke-width="1"/>
<line x1="376.5" y1="577.5" x2="376.5" y2="580.1" stroke="#231f20" stroke-width="0.8"/>
<line x1="404.5" y1="577.5" x2="404.5" y2="580.1" stroke="#231f20" stroke-width="0.8"/>
<line x1="432.5" y1="577.5" x2="432.5" y2="580.1" stroke="#231f20" stroke-width="0.8"/>
<rect x="353" y="540.55" width="9" height="36.45" fill="#cc0a2f"/>
<line x1="357.5" y1="531.98" x2="357.5" y2="549.13" stroke="#231f20" stroke-width="0.7"/>
<line x1="356.3" y1="531.98" x2="358.7" y2="531.98" stroke="#231f20" stroke-width="0.7"/>
<rect x="365" y="507.32" width="8.8" height="69.68" fill="#17518d"/>
<line x1="369.4" y1="498.74" x2="369.4" y2="515.9" stroke="#231f20" stroke-width="0.7"/>
<line x1="368.2" y1="498.74" x2="370.6" y2="498.74" stroke="#231f20" stroke-width="0.7"/>
<rect x="380.8" y="565.74" width="8.7" height="11.26" fill="#cc0a2f"/>
<line x1="385.15" y1="561.46" x2="385.15" y2="570.03" stroke="#231f20" stroke-width="0.7"/>
<line x1="383.95" y1="561.46" x2="386.35" y2="561.46" stroke="#231f20" stroke-width="0.7"/>
<rect x="392.5" y="557.7" width="8.8" height="19.3" fill="#17518d"/>
<line x1="396.9" y1="554.49" x2="396.9" y2="560.92" stroke="#231f20" stroke-width="0.7"/>
<line x1="395.7" y1="554.49" x2="398.1" y2="554.49" stroke="#231f20" stroke-width="0.7"/>
<rect x="408.3" y="557.7" width="8.7" height="19.3" fill="#cc0a2f"/>
<line x1="412.65" y1="553.95" x2="412.65" y2="561.46" stroke="#231f20" stroke-width="0.7"/>
<line x1="411.45" y1="553.95" x2="413.85" y2="553.95" stroke="#231f20" stroke-width="0.7"/>
<rect x="420" y="537.34" width="8.8" height="39.66" fill="#17518d"/>
<line x1="424.4" y1="531.98" x2="424.4" y2="542.7" stroke="#231f20" stroke-width="0.7"/>
<line x1="423.2" y1="531.98" x2="425.6" y2="531.98" stroke="#231f20" stroke-width="0.7"/>
<path d="M362.92,486.35 L362.92,488.65 M361.93,486.93 L363.92,488.07 M363.92,486.93 L361.93,488.07 M365.88,486.35 L365.88,488.65 M364.88,486.93 L366.87,488.07 M366.87,486.93 L364.88,488.07" stroke="#231f20" stroke-width="0.7" fill="none"/>
<path d="M358,494 L358,493 L370.8,493 L370.8,494" fill="none" stroke="#231f20" stroke-width="0.8"/>
<path d="M417.12,520.15 L417.12,522.45 M416.13,520.72 L418.12,521.88 M418.12,520.72 L416.13,521.88 M420.08,520.15 L420.08,522.45 M419.08,520.72 L421.07,521.88 M421.07,520.72 L419.08,521.88" stroke="#231f20" stroke-width="0.7" fill="none"/>
<path d="M412.5,527.3 L412.5,526.3 L424.5,526.3 L424.5,527.3" fill="none" stroke="#231f20" stroke-width="0.8"/>
<text x="363.2" y="587.6" font-size="6.8" text-anchor="middle" textLength="13.8" lengthAdjust="spacingAndGlyphs" stroke="#231f20" stroke-width="0.13">Total</text>
<text x="391.3" y="587.6" font-size="6.8" text-anchor="middle" textLength="20" lengthAdjust="spacingAndGlyphs" stroke="#231f20" stroke-width="0.13">B-cells</text>
<text x="418.2" y="587.6" font-size="6.8" text-anchor="middle" textLength="23.7" lengthAdjust="spacingAndGlyphs" stroke="#231f20" stroke-width="0.13">Myeloid</text>
<text x="392.5" y="600" font-size="8.6" text-anchor="middle" textLength="33" lengthAdjust="spacingAndGlyphs" stroke="#231f20" stroke-width="0.13">Cell subset</text>
<text x="323.19" y="532.2" font-size="8.3" text-anchor="middle" textLength="67.2" lengthAdjust="spacingAndGlyphs" transform="rotate(-90 323.19 532.2)" stroke="#231f20" stroke-width="0.13">% bone marrow hCD45</text>
<text x="330.56" y="532.2" font-size="8.3" text-anchor="middle" textLength="41.2" lengthAdjust="spacingAndGlyphs" transform="rotate(-90 330.56 532.2)" stroke="#231f20" stroke-width="0.13">compartment</text>
<line x1="480.5" y1="489.1" x2="480.5" y2="577" stroke="#231f20" stroke-width="1"/>
<line x1="477.5" y1="576.5" x2="480.5" y2="576.5" stroke="#231f20" stroke-width="0.8"/>
<text x="473.5" y="578.71" font-size="6.3" text-anchor="end" textLength="3.3" lengthAdjust="spacingAndGlyphs" stroke="#231f20" stroke-width="0.13">0</text>
<line x1="477.5" y1="564.5" x2="480.5" y2="564.5" stroke="#231f20" stroke-width="0.8"/>
<text x="473.5" y="566.49" font-size="6.3" text-anchor="end" textLength="11.1" lengthAdjust="spacingAndGlyphs" stroke="#231f20" stroke-width="0.13">0.02</text>
<line x1="477.5" y1="552.5" x2="480.5" y2="552.5" stroke="#231f20" stroke-width="0.8"/>
<text x="473.5" y="554.28" font-size="6.3" text-anchor="end" textLength="11.1" lengthAdjust="spacingAndGlyphs" stroke="#231f20" stroke-width="0.13">0.04</text>
<line x1="477.5" y1="539.5" x2="480.5" y2="539.5" stroke="#231f20" stroke-width="0.8"/>
<text x="473.5" y="542.06" font-size="6.3" text-anchor="end" textLength="11.1" lengthAdjust="spacingAndGlyphs" stroke="#231f20" stroke-width="0.13">0.06</text>
<line x1="477.5" y1="527.5" x2="480.5" y2="527.5" stroke="#231f20" stroke-width="0.8"/>
<text x="473.5" y="529.85" font-size="6.3" text-anchor="end" textLength="11.1" lengthAdjust="spacingAndGlyphs" stroke="#231f20" stroke-width="0.13">0.08</text>
<line x1="477.5" y1="515.5" x2="480.5" y2="515.5" stroke="#231f20" stroke-width="0.8"/>
<text x="473.5" y="517.63" font-size="6.3" text-anchor="end" textLength="11.1" lengthAdjust="spacingAndGlyphs" stroke="#231f20" stroke-width="0.13">0.10</text>
<line x1="477.5" y1="503.5" x2="480.5" y2="503.5" stroke="#231f20" stroke-width="0.8"/>
<text x="473.5" y="505.42" font-size="6.3" text-anchor="end" textLength="11.1" lengthAdjust="spacingAndGlyphs" stroke="#231f20" stroke-width="0.13">0.12</text>
<line x1="477.5" y1="491.5" x2="480.5" y2="491.5" stroke="#231f20" stroke-width="0.8"/>
<text x="473.5" y="493.21" font-size="6.3" text-anchor="end" textLength="11.1" lengthAdjust="spacingAndGlyphs" stroke="#231f20" stroke-width="0.13">0.14</text>
<line x1="480" y1="576.5" x2="512.2" y2="576.5" stroke="#231f20" stroke-width="1"/>
<line x1="512.5" y1="576.5" x2="512.5" y2="579.1" stroke="#231f20" stroke-width="0.8"/>
<rect x="484" y="544.13" width="9.7" height="32.37" fill="#cc0a2f"/>
<line x1="488.85" y1="534.36" x2="488.85" y2="553.9" stroke="#231f20" stroke-width="0.7"/>
<line x1="487.65" y1="534.36" x2="490.05" y2="534.36" stroke="#231f20" stroke-width="0.7"/>
<rect x="497" y="513.6" width="9" height="62.9" fill="#17518d"/>
<line x1="501.5" y1="505.05" x2="501.5" y2="522.15" stroke="#231f20" stroke-width="0.7"/>
<line x1="500.3" y1="505.05" x2="502.7" y2="505.05" stroke="#231f20" stroke-width="0.7"/>
<path d="M496,493.85 L496,496.15 M495,494.43 L497,495.57 M497,494.43 L495,495.57" stroke="#231f20" stroke-width="0.7" fill="none"/>
<path d="M489.9,501.4 L489.9,500.4 L501.8,500.4 L501.8,501.4" fill="none" stroke="#231f20" stroke-width="0.8"/>
<text x="494.8" y="588.4" font-size="6.8" text-anchor="middle" textLength="18" lengthAdjust="spacingAndGlyphs" stroke="#231f20" stroke-width="0.13">T-cells</text>
<text x="448.29" y="533" font-size="8.3" text-anchor="middle" textLength="68" lengthAdjust="spacingAndGlyphs" transform="rotate(-90 448.29 533)" stroke="#231f20" stroke-width="0.13">% bone marrow hCD45</text>
<text x="457.06" y="531.4" font-size="8.3" text-anchor="middle" textLength="44" lengthAdjust="spacingAndGlyphs" transform="rotate(-90 457.06 531.4)" stroke="#231f20" stroke-width="0.13">compartment</text>
<rect x="400.3" y="606.85" width="2.7" height="2.7" fill="#cc0a2f"/>
<text x="405.8" y="610.4" font-size="6.3" textLength="21.2" lengthAdjust="spacingAndGlyphs" stroke="#231f20" stroke-width="0.13">Control</text>
<rect x="433" y="606.85" width="2.7" height="2.7" fill="#17518d"/>
<text x="439.6" y="610.4" font-size="6.3" textLength="23.3" lengthAdjust="spacingAndGlyphs" stroke="#231f20" stroke-width="0.13">GW4869</text>
<rect x="0.5" y="0.5" width="519" height="617" fill="none" stroke="#5a5a5a" stroke-width="1"/>
</svg>
</body></html>
